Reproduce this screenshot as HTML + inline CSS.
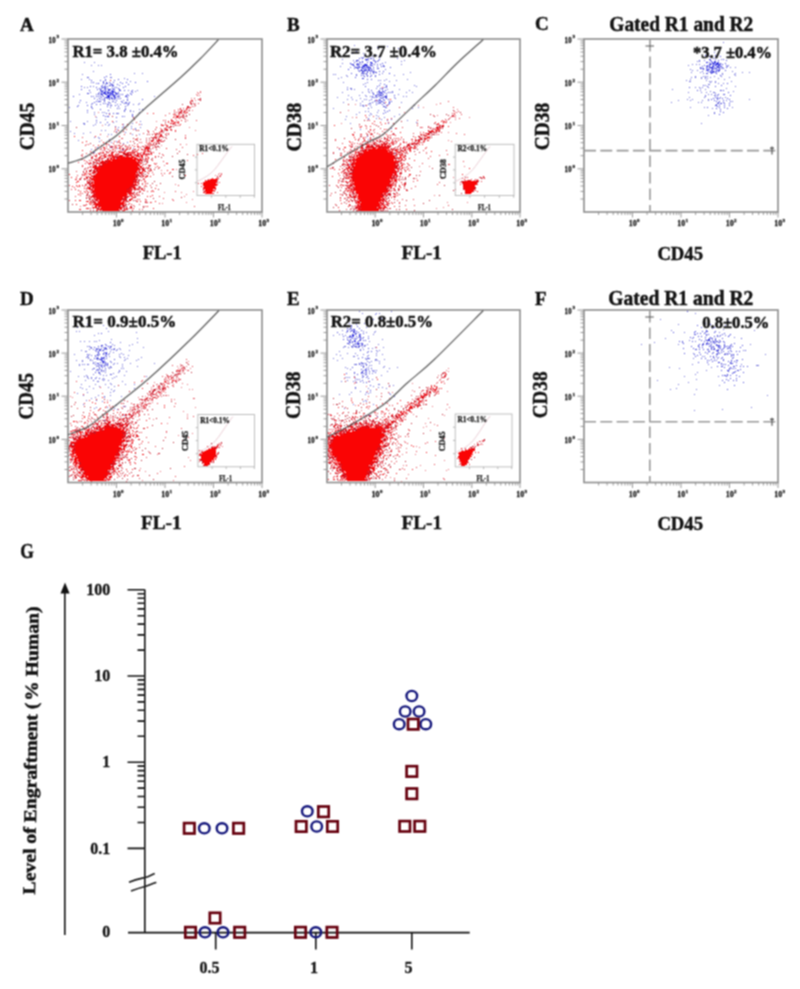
<!DOCTYPE html>
<html><head><meta charset="utf-8"><style>html,body{margin:0;padding:0;background:#fff;width:800px;height:989px;overflow:hidden}</style></head>
<body><svg width="800" height="989" viewBox="0 0 800 989" style="display:block"><rect width="800" height="989" fill="#fff"/><filter id="gb" x="0" y="0" width="800" height="989" filterUnits="userSpaceOnUse" color-interpolation-filters="sRGB"><feConvolveMatrix order="3" kernelMatrix="1 2 1 2 4 2 1 2 1" divisor="16" edgeMode="none"/></filter><g filter="url(#gb)"><g transform="translate(0,0.5)" stroke-width="1" fill="none"><path stroke="#6c6cd8" d="M723 42h1M354 45h1M387 46h1M377 47h1M398 48h1M89 51h1M356 51h1M735 51h1M714 52h1M352 53h1M363 53h1M401 55h1M372 56h1M709 56h1M361 57h1M715 57h1M397 58h1M342 59h1M710 59h1M715 59h1M721 59h1M353 60h1M368 60h1M404 60h1M704 60h1M401 61h1M697 61h1M699 61h1M84 62h1M94 62h1M385 62h1M709 62h1M342 63h1M356 64h1M361 64h1M401 64h1M692 64h1M696 64h1M699 64h1M711 64h1M719 64h1M91 65h1M98 65h1M101 65h1M688 65h1M728 65h1M340 66h1M384 66h1M350 67h1M362 67h1M730 67h1M735 67h1M354 68h1M701 68h2M385 69h1M690 69h1M714 69h1M692 70h1M697 70h1M93 71h1M374 71h1M712 71h1M732 71h1M410 72h1M691 72h1M700 72h1M742 72h1M749 72h1M134 73h1M142 73h1M361 73h1M382 73h1M703 73h1M722 73h1M735 73h1M82 74h1M333 74h1M335 74h1M356 74h1M403 74h1M722 74h1M734 74h1M346 75h1M375 75h1M394 75h1M735 75h1M347 76h1M367 76h1M695 76h1M703 76h1M705 76h1M707 76h1M714 76h1M721 76h1M88 77h1M110 77h2M341 77h1M691 77h1M701 77h1M705 77h1M710 77h1M729 77h1M124 78h1M338 78h1M701 78h1M705 78h1M707 78h1M718 78h1M81 79h1M89 79h1M105 79h1M386 79h1M407 79h1M690 79h1M724 79h1M378 80h1M380 80h1M384 80h1M396 80h1M686 80h1M706 80h1M130 81h1M389 81h1M689 81h2M709 81h1M711 81h1M715 81h1M731 81h1M91 82h1M109 82h1M343 82h1M367 82h1M710 82h1M715 82h1M96 83h1M365 83h1M380 83h1M718 83h1M723 83h1M363 84h1M708 84h2M112 85h1M119 85h1M414 85h1M705 85h1M93 86h1M416 86h1M735 86h1M84 87h1M87 87h1M347 87h1M695 87h1M699 87h1M702 87h1M708 87h1M350 88h2M376 88h1M700 88h1M726 88h1M351 89h1M354 89h1M387 89h1M399 89h1M672 89h1M705 89h1M128 90h1M137 90h1M409 90h1M700 90h1M721 90h1M135 91h1M368 91h1M378 91h2M392 91h1M710 91h1M733 91h1M90 92h1M342 92h1M362 92h1M369 92h1M406 92h1M412 92h1M688 92h1M701 92h1M706 92h1M713 92h2M715 93h1M79 94h1M96 94h1M120 94h1M127 94h1M383 94h1M398 94h1M708 94h1M711 94h1M723 94h1M348 95h1M359 95h1M365 95h1M705 95h1M714 95h1M93 96h1M154 96h1M366 96h1M370 96h1M403 96h1M406 96h1M705 96h1M337 97h1M351 97h1M394 97h1M689 97h1M704 97h1M720 97h1M725 97h1M116 98h1M360 98h1M395 98h1M97 99h1M100 99h1M112 99h1M347 99h1M352 99h1M364 99h1M366 99h1M687 99h1M692 99h1M708 99h1M749 99h1M104 100h1M123 100h1M127 100h1M356 100h1M369 100h1M678 100h1M690 100h1M702 100h1M708 100h1M726 100h1M99 101h1M112 101h2M362 101h1M374 101h1M382 101h1M732 101h1M79 102h1M86 102h1M109 102h1M125 102h2M343 102h1M401 102h1M671 102h1M698 102h1M701 102h1M105 103h1M110 103h1M139 103h1M360 103h1M369 103h1M380 103h1M717 103h1M91 104h1M100 104h1M117 104h1M120 104h1M133 104h1M138 104h1M368 104h1M716 104h1M78 105h1M110 105h1M127 105h1M360 105h1M362 105h2M365 105h1M370 105h1M414 105h1M363 106h1M69 107h1M91 107h1M110 107h1M371 107h1M386 107h1M418 107h1M690 107h1M704 107h1M732 107h1M119 108h1M125 108h1M333 108h1M412 108h1M712 108h1M139 109h1M142 109h1M130 110h1M378 110h1M124 111h1M130 111h1M133 111h1M365 111h1M368 111h1M87 112h1M94 112h1M102 112h1M104 112h1M139 112h1M359 112h1M377 112h1M714 112h1M116 113h3M370 113h1M94 114h1M356 114h1M371 114h1M399 114h1M404 114h1M132 115h1M369 115h1M376 115h1M708 115h1M124 116h1M346 116h1M378 116h1M394 116h1M96 117h1M384 117h1M368 118h1M376 118h1M105 119h1M345 119h1M368 119h1M381 119h1M391 119h1M387 120h1M407 120h1M70 121h1M87 121h1M116 121h1M140 121h1M96 122h1M113 122h1M416 122h1M83 123h2M132 123h1M350 123h1M388 123h1M701 123h1M84 124h1M95 124h1M105 124h1M109 124h1M123 124h1M141 124h1M93 125h1M108 125h1M115 126h1M123 126h1M131 126h1M118 127h1M122 127h1M140 127h1M131 128h1M135 128h1M391 128h1M117 129h1M135 129h1M360 129h1M101 130h1M105 130h1M70 131h1M116 131h1M90 132h1M125 132h1M74 133h1M83 133h1M108 134h1M111 134h1M132 134h1M139 134h1M116 135h1M367 136h1M94 137h1M98 137h1M99 138h1M109 139h1M368 139h1M78 140h1M99 141h1M116 141h1M111 142h1M127 142h1M123 143h1M109 145h1M97 147h1M111 147h1M117 148h1M133 148h1M91 149h1M123 149h1M339 149h1M122 150h1M93 152h2M395 153h1M85 156h1M116 158h1M349 164h1M359 311h1M391 311h1M362 313h1M376 313h1M379 313h1M695 313h1M375 314h1M113 318h1M381 318h1M373 319h1M660 319h1M728 321h1M349 323h1M364 323h1M705 323h1M87 324h1M356 324h1M367 324h1M678 324h1M103 325h1M351 325h1M725 325h1M77 327h1M366 327h1M106 328h1M712 328h1M723 329h1M342 330h1M671 330h1M754 330h1M76 331h1M79 331h1M108 331h1M363 331h1M375 331h1M136 332h1M346 332h1M366 332h1M374 332h1M684 332h1M719 332h1M98 333h1M339 334h1M342 334h1M373 334h1M94 335h1M333 335h1M345 335h1M350 335h1M725 335h1M729 335h1M368 336h1M719 336h1M734 337h1M137 338h1M665 338h1M692 338h1M715 338h1M111 339h1M382 339h1M705 339h1M99 340h1M359 340h1M689 340h1M80 341h1M84 341h1M89 341h1M94 341h1M96 341h1M369 341h1M695 341h1M714 341h1M120 342h1M137 342h1M654 342h1M682 342h1M718 342h1M112 344h1M132 344h1M349 344h1M367 344h1M378 344h1M641 344h1M678 344h1M750 344h1M114 345h1M129 345h1M353 345h1M359 345h1M362 345h1M364 345h2M87 346h1M111 346h1M344 346h2M351 346h1M364 346h1M90 347h2M103 347h1M143 347h1M343 347h1M348 347h1M352 347h1M356 347h1M362 347h1M375 347h1M383 347h1M91 348h1M101 348h1M104 348h1M109 348h1M114 348h1M119 348h1M372 348h1M89 349h1M93 349h1M99 349h1M114 349h1M117 349h1M120 349h1M360 349h1M363 349h1M81 350h1M129 350h1M376 350h1M379 350h1M743 350h1M85 351h2M110 351h1M339 351h1M368 351h1M377 351h1M113 352h1M109 353h1M121 353h1M347 353h1M355 353h1M376 353h1M693 353h1M725 353h1M74 354h1M89 354h1M119 354h1M123 354h1M336 354h1M363 354h1M382 354h1M765 354h1M88 355h1M91 355h1M95 355h1M98 355h1M128 355h1M340 355h1M357 355h1M368 355h1M376 355h1M731 355h1M109 356h1M119 356h1M353 356h2M367 356h1M702 356h1M704 356h1M731 356h1M86 357h1M88 357h1M120 357h1M124 357h1M141 357h1M718 357h1M88 358h1M98 358h1M127 358h1M333 358h1M342 358h1M365 358h1M369 358h1M693 358h1M714 358h1M717 358h1M90 359h1M125 359h1M138 359h1M375 359h2M384 359h1M76 360h1M82 360h1M90 360h1M92 360h1M124 360h1M136 360h1M337 360h1M375 360h1M377 360h1M709 360h1M716 360h1M82 361h1M102 361h1M367 361h1M371 361h1M379 361h1M731 361h1M93 362h1M95 362h1M100 362h1M102 362h1M111 362h1M361 362h1M103 363h1M114 363h1M117 363h1M130 363h1M154 363h1M362 363h1M379 363h1M79 364h1M82 364h1M84 364h1M87 364h2M99 364h1M101 364h1M113 364h1M122 364h1M354 364h2M692 364h1M708 364h1M721 364h1M741 364h1M79 365h1M363 365h1M366 365h1M369 365h1M371 365h1M756 365h3M96 366h1M98 366h1M110 366h1M122 366h1M137 366h1M384 366h1M99 367h1M108 367h1M110 367h2M345 367h1M368 367h1M383 367h1M397 367h1M669 367h1M711 367h1M93 368h2M99 368h1M109 368h1M121 368h1M123 368h1M347 368h1M389 368h1M679 368h1M735 368h1M84 369h1M92 369h1M99 369h1M101 369h1M350 369h1M103 370h1M119 370h1M374 370h1M376 370h1M706 370h1M70 371h1M101 371h1M103 371h1M119 371h1M126 371h1M387 371h1M98 372h1M105 372h1M118 372h1M697 372h1M113 373h1M354 373h1M369 373h1M372 373h1M93 374h1M100 374h1M111 374h1M695 374h1M86 375h1M103 375h1M106 375h1M124 375h1M381 375h1M78 376h1M84 376h1M87 376h1M116 376h1M146 376h1M354 376h1M684 376h1M718 376h1M87 377h1M91 377h1M96 377h1M114 377h1M345 377h1M347 377h1M349 377h1M366 377h1M88 378h1M91 378h1M103 378h1M112 378h1M355 378h1M102 379h1M104 379h1M359 379h1M372 379h1M696 379h1M85 380h1M103 380h1M108 380h1M347 380h1M355 380h1M657 380h1M97 381h2M122 381h1M341 381h1M353 381h1M363 382h1M688 382h1M110 383h1M81 384h1M95 384h1M105 384h1M111 384h1M125 384h1M134 384h1M378 384h2M678 384h1M389 385h1M393 385h1M719 385h1M89 386h1M99 386h1M114 386h1M373 386h1M80 387h1M108 387h1M378 387h1M382 387h1M82 388h1M93 388h1M134 388h1M355 388h1M368 388h1M386 388h1M676 388h1M86 389h1M111 389h1M670 389h1M696 389h1M114 390h1M113 391h1M360 391h1M87 392h1M110 392h1M351 392h1M370 392h1M77 393h1M368 393h1M389 393h1M339 394h1M349 394h1M365 394h1M390 394h1M694 394h1M83 395h1M98 395h1M110 395h1M767 395h1M104 396h1M121 396h1M394 396h1M95 397h1M104 397h1M91 398h1M86 400h1M96 400h1M110 400h1M365 400h1M102 401h1M363 401h1M366 401h1M83 404h1M353 404h1M373 404h1M116 405h1M123 406h1M125 406h1M96 407h1M107 407h1M751 407h1M94 408h1M114 408h1M344 408h1M111 409h1M117 409h1M722 409h1M694 410h1M124 415h1M365 415h1M369 415h1M377 416h1M104 420h1"/><path stroke="#4444d8" d="M364 55h1M376 55h1M705 55h1M715 55h1M720 56h1M363 57h1M379 57h1M359 58h1M368 58h1M370 58h2M373 58h1M713 58h1M365 59h2M379 59h1M709 59h1M723 59h1M356 60h3M366 60h1M373 60h2M378 60h1M699 60h1M710 60h1M718 60h1M726 60h1M356 61h1M362 61h1M375 61h1M377 61h1M714 61h2M354 62h1M359 62h2M362 62h1M367 62h1M375 62h1M715 62h1M717 62h2M357 63h1M372 63h1M382 63h1M710 63h1M712 63h2M717 63h2M720 63h1M725 63h1M351 64h3M357 64h2M364 64h1M370 64h1M374 64h1M377 64h1M380 64h1M709 64h1M718 64h1M720 64h1M357 65h1M363 65h3M367 65h1M370 65h3M383 65h1M704 65h1M709 65h1M718 65h1M726 65h1M354 66h1M358 66h2M366 66h1M368 66h1M377 66h1M381 66h1M383 66h1M702 66h1M706 66h2M709 66h1M716 66h3M721 66h1M727 66h1M355 67h3M361 67h1M364 67h1M366 67h2M369 67h2M373 67h1M390 67h1M700 67h1M707 67h1M711 67h2M714 67h1M717 67h3M722 67h1M726 67h1M357 68h2M363 68h1M365 68h1M368 68h1M377 68h2M700 68h1M703 68h1M711 68h3M719 68h1M721 68h1M723 68h1M361 69h1M368 69h2M371 69h1M373 69h1M703 69h1M709 69h1M712 69h1M717 69h1M719 69h1M358 70h1M360 70h3M364 70h3M368 70h2M371 70h1M706 70h2M712 70h1M725 70h1M359 71h1M362 71h3M367 71h1M372 71h2M379 71h1M383 71h1M702 71h1M713 71h2M718 71h1M362 72h1M367 72h1M373 72h1M375 72h2M710 72h2M713 72h1M715 72h1M351 73h1M362 73h3M366 73h1M370 73h1M373 73h1M706 73h2M711 73h1M110 74h1M366 74h1M379 74h1M356 75h1M361 75h1M363 75h1M367 75h1M371 75h1M720 75h1M106 76h1M364 76h1M370 76h1M375 76h1M87 77h1M104 77h1M355 77h1M695 77h1M363 78h1M118 79h1M127 79h1M367 79h1M371 79h1M91 80h1M100 80h1M105 80h1M114 80h1M103 81h1M147 81h1M93 82h1M103 82h1M106 82h1M113 82h1M120 82h1M126 82h1M135 82h1M103 83h1M106 83h2M110 83h1M122 83h1M727 83h1M105 84h1M111 84h2M117 84h1M128 84h1M384 84h1M102 85h1M109 85h2M113 85h1M379 85h1M386 85h1M394 85h1M703 85h1M721 85h1M81 86h1M90 86h1M104 86h2M107 86h1M112 86h1M125 86h1M365 86h1M377 86h1M386 86h1M707 86h1M715 86h1M96 87h1M102 87h2M105 87h1M114 87h1M116 87h1M123 87h1M384 87h1M386 87h1M689 87h1M99 88h1M101 88h1M104 88h2M107 88h1M112 88h1M118 88h1M380 88h1M382 88h1M81 89h1M97 89h1M100 89h1M105 89h1M108 89h3M114 89h1M119 89h1M347 89h1M368 89h1M382 89h1M89 90h1M100 90h2M105 90h1M109 90h1M119 90h2M124 90h1M132 90h1M371 90h1M379 90h1M697 90h1M720 90h1M723 90h1M101 91h1M107 91h1M113 91h2M131 91h1M382 91h1M99 92h1M101 92h1M104 92h1M108 92h3M113 92h1M118 92h1M132 92h1M372 92h1M377 92h1M380 92h2M388 92h1M390 92h1M392 92h1M728 92h1M87 93h2M98 93h1M103 93h2M107 93h1M110 93h1M112 93h1M115 93h1M117 93h1M130 93h1M373 93h1M379 93h1M382 93h1M386 93h1M98 94h1M100 94h3M105 94h1M109 94h1M116 94h1M122 94h1M131 94h1M373 94h1M377 94h2M380 94h1M718 94h1M724 94h1M102 95h1M109 95h1M113 95h3M126 95h1M128 95h1M375 95h2M379 95h4M386 95h1M394 95h1M715 95h1M717 95h1M730 95h1M73 96h1M91 96h1M96 96h1M98 96h1M100 96h1M103 96h1M107 96h1M113 96h2M118 96h2M125 96h2M372 96h1M376 96h1M378 96h1M384 96h3M101 97h1M105 97h5M127 97h1M372 97h1M374 97h1M376 97h1M382 97h2M385 97h2M715 97h1M717 97h1M94 98h1M99 98h1M104 98h1M107 98h1M109 98h1M111 98h2M114 98h1M118 98h1M120 98h1M381 98h1M386 98h1M713 98h1M717 98h1M719 98h1M722 98h1M727 98h1M102 99h1M104 99h1M109 99h1M114 99h1M127 99h1M142 99h1M371 99h1M388 99h1M711 99h1M717 99h1M729 99h1M80 100h1M116 100h1M377 100h1M379 100h2M384 100h1M714 100h1M723 100h1M96 101h1M100 101h1M104 101h1M121 101h1M378 101h1M389 101h1M391 101h1M716 101h1M719 101h1M730 101h1M94 102h1M108 102h1M115 102h1M122 102h1M129 102h1M372 102h1M376 102h1M379 102h2M383 102h1M389 102h1M718 102h1M723 102h1M92 103h1M103 103h1M124 103h1M126 103h1M128 103h1M370 103h1M718 103h1M720 103h2M724 103h1M729 103h1M96 104h1M107 104h2M128 104h1M376 104h1M382 104h1M388 104h1M87 105h1M111 105h1M115 105h1M386 105h1M715 105h2M719 105h1M724 105h1M729 105h1M77 106h1M91 106h1M107 106h1M118 106h1M125 106h1M383 106h2M717 106h1M385 107h1M707 107h1M719 107h1M724 107h1M92 108h1M117 108h1M368 108h1M716 108h1M727 108h1M100 109h1M125 109h1M720 109h1M87 110h1M108 110h1M124 110h1M384 110h1M389 110h1M387 111h1M720 111h1M385 112h1M723 112h1M106 113h1M109 113h1M113 113h1M383 113h1M714 113h1M132 114h1M719 114h1M103 115h1M105 116h1M107 116h2M122 116h1M132 116h1M116 117h1M96 120h1M100 122h1M107 122h1M687 311h1M710 324h1M697 325h1M348 326h1M351 326h1M357 326h1M701 327h1M712 327h1M714 327h1M347 328h1M350 328h2M359 328h1M349 329h1M353 329h2M347 330h1M352 330h1M354 330h1M361 330h1M706 330h1M350 331h1M353 331h2M695 331h1M702 331h1M706 331h2M715 331h1M337 332h1M353 332h2M358 332h1M673 332h1M705 332h1M714 332h1M101 333h1M355 333h2M363 333h1M697 333h1M700 333h1M704 333h1M724 333h1M352 334h2M355 334h1M359 334h2M694 334h2M706 334h1M708 334h1M722 334h1M730 334h1M352 335h1M706 335h1M717 335h1M720 335h1M343 336h1M349 336h1M353 336h1M356 336h1M359 336h2M698 336h1M701 336h1M714 336h1M717 336h1M347 337h1M349 337h1M358 337h1M360 337h1M363 337h1M690 337h1M693 337h1M705 337h1M710 337h1M352 338h1M354 338h1M360 338h1M362 338h1M368 338h1M709 338h1M711 338h2M722 338h1M741 338h1M343 339h1M347 339h1M350 339h1M355 339h1M699 339h1M708 339h2M715 339h1M348 340h1M350 340h1M360 340h1M363 340h1M365 340h1M701 340h1M706 340h2M709 340h1M712 340h1M715 340h1M719 340h1M349 341h1M352 341h1M679 341h1M682 341h1M692 341h1M704 341h1M710 341h1M713 341h1M716 341h2M720 341h1M723 341h1M110 342h1M349 342h2M352 342h1M357 342h1M707 342h1M711 342h1M715 342h1M719 342h1M724 342h1M347 343h2M355 343h1M358 343h2M362 343h1M683 343h1M703 343h1M706 343h2M709 343h1M714 343h1M734 343h1M105 344h1M353 344h1M355 344h1M357 344h2M362 344h1M699 344h1M702 344h2M708 344h1M711 344h1M716 344h1M724 344h1M731 344h1M101 345h2M106 345h1M361 345h1M698 345h1M702 345h1M710 345h1M716 345h3M724 345h1M730 345h1M742 345h1M89 346h1M98 346h1M101 346h1M110 346h1M352 346h1M354 346h3M358 346h2M691 346h1M698 346h1M709 346h1M711 346h1M713 346h1M718 346h1M720 346h1M724 346h1M728 346h1M730 346h1M732 346h1M94 347h1M105 347h1M110 347h1M358 347h1M699 347h1M702 347h1M711 347h1M713 347h1M718 347h2M724 347h1M729 347h1M740 347h1M96 348h1M98 348h1M105 348h2M368 348h1M683 348h1M693 348h1M711 348h1M714 348h1M723 348h1M727 348h2M96 349h2M100 349h1M104 349h1M106 349h1M111 349h1M113 349h1M695 349h2M699 349h1M703 349h1M707 349h2M711 349h1M713 349h2M718 349h1M722 349h1M95 350h1M99 350h2M102 350h2M116 350h1M360 350h1M717 350h2M721 350h1M730 350h1M745 350h1M96 351h1M98 351h1M371 351h1M708 351h2M717 351h1M723 351h1M728 351h1M731 351h1M736 351h1M739 351h1M98 352h1M104 352h1M367 352h1M699 352h1M705 352h1M713 352h1M718 352h1M721 352h1M98 353h1M103 353h1M105 353h1M684 353h1M707 353h1M712 353h1M717 353h1M719 353h1M727 353h1M729 353h1M87 354h1M97 354h1M99 354h1M103 354h1M106 354h1M108 354h1M694 354h1M700 354h1M716 354h2M724 354h2M727 354h1M731 354h1M733 354h1M737 354h1M97 355h1M105 355h1M697 355h1M733 355h1M87 356h1M95 356h1M695 356h1M710 356h1M713 356h1M716 356h1M97 357h1M103 357h2M362 357h1M713 357h1M722 357h1M733 357h1M94 358h1M96 358h2M101 358h1M103 358h1M106 358h1M358 358h1M367 358h2M701 358h1M705 358h1M721 358h1M732 358h1M97 359h1M99 359h3M104 359h1M114 359h1M366 359h1M711 359h1M723 359h1M742 359h1M101 360h1M707 360h1M714 360h1M723 360h1M731 360h1M736 360h2M104 361h1M110 361h1M712 361h1M728 361h1M734 361h1M105 362h1M369 362h1M698 362h1M707 362h1M719 362h1M730 362h1M736 362h1M93 363h1M98 363h1M105 363h1M359 363h1M361 363h1M363 363h1M365 363h1M721 363h1M730 363h3M95 364h1M105 364h1M107 364h1M356 364h1M359 364h1M366 364h1M723 364h1M725 364h1M97 365h1M99 365h1M103 365h1M105 365h1M361 365h1M728 365h1M736 365h1M104 366h1M363 366h1M717 366h1M721 366h2M733 366h2M740 366h1M743 366h1M747 366h1M102 367h1M352 367h1M363 367h1M724 367h1M730 367h1M105 368h1M366 368h1M371 368h1M729 368h1M731 368h1M733 368h1M361 369h1M365 369h1M368 369h1M729 369h1M740 369h1M96 370h1M98 370h1M101 370h1M105 370h1M363 370h1M365 370h1M372 370h1M721 370h1M727 370h2M737 370h2M362 371h1M369 371h1M373 371h1M728 371h1M735 371h1M95 372h1M99 372h1M354 372h1M361 372h2M365 372h2M375 372h1M733 372h2M743 372h1M99 373h1M346 373h1M361 373h1M363 373h1M732 373h1M110 374h1M357 374h1M365 374h2M727 374h1M362 375h1M722 375h1M724 375h2M727 375h1M730 375h1M736 375h1M363 376h1M367 376h1M726 376h1M739 376h1M362 377h1M95 378h1M99 378h1M368 378h1M730 378h1M736 378h1M357 379h1M726 379h1M93 380h1M362 380h1M722 380h1M728 380h1M733 380h1M736 380h1M360 381h1M369 381h1M356 382h1M366 382h1M724 382h1M743 382h1M370 385h1M734 385h1M355 387h1M727 389h1M370 390h1M366 392h1"/><path stroke="#2222e4" d="M362 58h1M367 59h1M711 61h1M370 62h2M706 62h2M712 62h1M714 62h1M350 63h1M371 63h1M714 63h1M716 63h1M359 64h1M365 64h2M710 64h1M713 64h1M715 64h3M722 64h1M353 65h1M366 65h1M707 65h1M713 65h1M715 65h1M719 65h1M362 66h3M712 66h2M720 66h1M359 67h1M368 67h1M709 67h2M362 68h1M370 68h1M706 68h1M715 68h2M348 69h1M364 69h1M366 69h1M707 69h2M711 70h1M716 70h1M718 70h2M370 71h1M708 71h1M710 71h1M716 71h1M712 72h1M389 73h1M716 73h1M362 78h1M98 83h1M101 86h1M113 89h1M103 90h1M108 90h1M112 90h1M385 90h1M102 91h1M105 91h1M111 91h2M383 91h1M103 92h1M105 92h1M107 92h1M112 92h1M115 92h1M379 92h1M384 92h1M101 93h1M105 93h1M108 93h1M111 93h1M116 93h1M381 93h1M106 94h1M110 94h1M112 94h2M118 94h1M107 95h2M111 95h1M108 96h2M117 96h1M111 97h1M114 97h2M380 97h1M379 99h1M383 99h1M375 100h1M98 101h1M381 101h1M378 103h1M384 103h1M389 103h1M351 330h1M347 331h1M356 331h1M694 332h1M353 335h1M359 335h1M350 336h1M352 336h1M728 336h1M351 337h1M356 338h1M360 339h1M354 340h1M708 340h1M354 341h2M358 341h1M713 342h1M357 343h1M361 343h1M706 344h1M719 345h1M108 346h1M726 346h1M720 348h1M730 348h1M716 350h1M106 352h1M106 353h1M106 356h1M101 357h1M102 358h1M102 360h1M103 361h1M103 362h1M718 362h1M97 363h1M107 363h1M101 365h1M107 365h1M101 366h1M97 369h1M366 370h1"/><path stroke="#e8707a" d="M200 91h1M197 92h1M196 94h1M199 95h1M191 98h1M199 99h1M195 100h1M195 103h1M355 104h1M436 104h1M418 105h1M194 106h1M189 107h1M423 107h1M189 108h1M457 109h1M188 110h1M192 110h1M348 110h1M185 111h1M98 112h1M404 112h1M454 114h1M437 115h1M455 115h1M95 116h1M451 116h1M453 116h2M352 117h1M450 117h1M455 117h1M469 117h1M455 119h1M172 120h1M187 120h1M446 120h1M156 121h1M446 121h1M176 122h1M446 122h1M450 122h1M341 123h1M443 123h1M102 125h1M359 126h1M189 127h1M421 127h2M160 128h1M195 130h1M448 132h1M107 136h1M121 138h1M101 140h1M448 140h1M451 141h1M104 143h1M367 143h1M86 144h1M186 144h1M161 145h1M355 146h1M159 147h1M426 152h1M426 153h1M123 156h1M82 159h1M95 164h1M443 164h1M164 165h1M419 166h1M429 166h1M464 166h1M176 169h1M161 170h1M84 173h1M219 173h1M221 173h1M218 174h1M215 175h1M220 176h1M217 177h1M453 177h1M479 177h1M481 177h1M484 177h1M217 178h1M416 178h1M441 178h1M482 178h1M85 179h1M217 179h1M477 179h1M478 180h1M175 184h1M93 188h1M393 190h1M193 191h1M164 192h1M181 192h1M186 194h1M434 195h1M184 196h1M192 199h1M94 201h1M151 202h1M186 202h1M447 202h1M467 202h1M162 203h1M80 206h1M380 206h1M443 207h1M127 208h1M436 208h1M188 361h1M187 363h1M180 364h1M182 365h1M177 366h1M180 366h1M183 366h1M186 366h1M182 367h2M178 368h1M181 368h1M190 368h1M448 368h1M185 369h1M176 370h1M179 370h2M183 370h1M187 370h1M446 370h1M178 371h1M180 371h1M183 371h1M448 371h1M177 372h1M182 372h1M443 372h1M445 372h1M173 373h1M180 373h1M166 374h1M180 374h1M441 374h1M445 374h1M175 375h1M438 375h1M444 375h1M168 376h2M166 378h1M168 378h1M448 378h1M165 379h1M171 379h1M166 380h2M174 380h2M439 380h1M172 381h1M176 381h1M368 381h1M441 381h1M154 382h1M166 382h1M171 382h1M169 383h1M182 383h1M354 383h1M412 383h1M436 383h1M156 384h2M162 384h1M164 384h1M173 384h1M187 384h1M162 385h1M157 386h1M366 386h1M151 387h1M158 387h3M162 387h3M168 387h1M181 387h1M437 387h1M156 388h1M159 388h1M165 388h1M153 389h1M157 389h1M159 389h1M189 389h1M192 389h1M438 389h1M155 390h1M162 390h1M164 390h1M412 390h1M157 391h1M159 391h1M447 391h1M149 392h1M153 392h1M156 392h1M158 392h1M165 392h1M392 392h1M159 393h1M148 394h1M160 394h1M148 395h1M151 395h1M157 395h1M160 395h1M165 395h1M168 395h1M70 396h1M145 396h1M152 396h1M161 396h1M376 396h1M72 397h1M138 397h1M145 398h1M194 398h1M389 398h1M140 399h1M145 399h1M151 399h1M174 399h1M367 399h1M380 399h1M107 400h1M145 400h1M150 400h1M145 401h1M140 402h1M143 402h1M145 402h1M152 402h1M407 402h1M141 403h1M149 403h1M147 404h1M333 404h1M141 405h1M355 405h1M106 406h1M145 406h1M149 406h1M432 406h1M121 407h1M133 407h2M143 407h1M195 407h1M449 407h1M112 408h1M134 408h1M144 408h1M133 409h1M138 409h1M147 409h1M446 409h1M128 410h1M137 410h1M141 410h1M361 410h1M127 411h1M132 411h1M138 411h1M183 411h1M134 412h1M139 412h1M132 413h1M187 414h1M375 414h1M413 414h1M129 415h2M345 415h1M376 415h1M444 415h1M88 416h1M135 416h1M138 416h1M187 416h1M104 417h1M128 418h2M428 418h1M105 419h1M153 419h1M400 419h1M125 420h1M79 421h1M131 421h1M349 421h1M84 422h1M125 422h1M127 422h1M126 423h1M167 423h1M335 423h1M425 423h1M434 424h1M426 426h1M423 427h1M430 430h1M166 432h1M192 433h1M178 435h1M71 438h1M444 438h1M182 440h1M482 440h1M404 441h1M480 441h1M482 441h2M70 442h1M477 442h1M477 443h1M481 443h1M217 444h2M220 444h1M474 444h1M482 444h1M217 445h1M396 445h1M478 445h1M222 446h1M416 446h1M217 447h2M419 447h1M406 448h1M391 449h1M148 451h1M398 451h1M157 454h1M402 454h1M415 454h1M188 457h1M114 460h1M190 460h1M444 460h1M403 465h1M420 465h1M140 468h1M332 468h1M400 469h1M448 469h1M425 470h1M446 470h1M145 471h1M160 471h1M123 472h1M376 473h1M408 474h1M121 475h1M390 477h1M342 478h1M142 480h1M173 480h1M401 481h1"/><path stroke="#b8182a" d="M110 80h1M200 98h1M198 99h1M200 100h1M190 101h1M192 101h1M191 103h1M182 104h1M191 104h1M194 104h1M348 104h1M188 106h1M187 107h1M399 107h1M180 109h1M184 110h1M189 110h1M453 110h1M174 112h1M179 112h2M183 112h1M340 112h1M460 112h1M183 114h1M189 114h1M430 114h1M446 114h1M186 115h1M448 115h1M452 115h1M112 116h1M176 116h1M182 116h1M184 116h1M186 116h1M434 116h1M133 117h1M180 117h1M183 117h1M379 118h1M448 119h1M364 120h1M185 121h1M401 121h1M165 122h1M393 123h1M417 123h1M434 123h1M173 124h1M359 124h1M436 124h1M163 125h1M175 125h1M376 125h1M439 125h1M171 126h1M173 126h1M378 126h1M437 126h1M441 126h3M76 127h1M166 127h1M169 127h2M428 127h1M436 127h1M440 127h1M351 128h1M430 128h1M155 129h1M165 129h1M433 129h1M439 129h1M136 130h1M138 130h1M162 130h1M164 130h1M166 130h1M437 130h1M123 131h1M148 131h1M368 131h1M429 131h1M439 131h1M116 132h1M163 132h1M384 132h1M429 132h3M433 132h1M436 132h1M130 133h1M157 133h1M393 133h1M431 133h1M147 134h1M152 134h1M156 134h1M158 134h1M161 134h1M367 134h1M371 134h1M383 134h1M428 134h1M433 134h2M136 135h1M166 135h1M421 135h1M424 135h2M431 135h1M161 136h1M360 136h2M380 136h1M413 136h1M418 136h1M153 137h2M163 137h1M165 137h1M379 137h1M388 137h1M419 137h2M429 137h1M431 137h1M133 138h1M149 138h1M158 138h1M344 138h1M377 138h1M384 138h2M390 138h1M424 138h2M136 139h1M153 139h1M175 139h1M364 139h1M372 139h1M403 139h1M419 139h4M137 140h1M146 140h1M151 140h1M159 140h1M164 140h1M358 140h1M380 140h1M395 140h1M416 140h1M427 140h1M133 141h1M158 141h1M365 141h1M373 141h1M379 141h2M386 141h1M415 141h1M418 141h1M119 142h1M374 142h1M421 142h1M90 143h1M106 143h1M134 143h1M150 143h1M156 143h1M158 143h2M376 143h1M385 143h1M389 143h1M413 143h1M417 143h1M149 144h1M153 144h1M373 144h2M381 144h1M393 144h1M407 144h1M409 144h1M411 144h1M416 144h1M129 145h1M152 145h1M371 145h1M375 145h1M409 145h1M414 145h1M115 146h1M146 146h1M155 146h1M157 146h2M352 146h1M362 146h1M366 146h1M370 146h1M372 146h2M379 146h1M385 146h1M388 146h2M398 146h1M407 146h1M110 147h1M112 147h1M119 147h1M140 147h1M144 147h1M367 147h1M372 147h1M379 147h1M382 147h1M397 147h1M406 147h1M411 147h1M123 148h1M149 148h1M363 148h1M391 148h1M394 148h1M403 148h1M415 148h1M100 149h1M108 149h1M126 149h1M129 149h1M135 149h1M144 149h1M147 149h1M150 149h1M156 149h1M362 149h1M364 149h1M368 149h2M392 149h1M396 149h1M417 149h1M120 150h1M132 150h1M361 150h1M394 150h1M401 150h2M405 150h1M106 151h1M112 151h1M125 151h1M150 151h1M179 151h1M358 151h1M360 151h1M390 151h1M398 151h1M400 151h1M414 151h1M100 152h1M120 152h1M133 152h1M151 152h1M359 152h1M390 152h1M406 152h1M419 152h1M93 153h1M123 153h2M127 153h2M148 153h1M177 153h1M333 153h1M341 153h1M348 153h1M393 153h2M401 153h1M405 153h1M99 154h1M123 154h1M125 154h1M127 154h1M131 154h1M145 154h1M187 154h1M359 154h1M361 154h1M391 154h1M400 154h1M81 155h1M104 155h1M110 155h1M125 155h1M127 155h1M129 155h1M134 155h1M136 155h1M340 155h1M357 155h1M405 155h1M116 156h1M118 156h1M120 156h1M124 156h1M133 156h1M158 156h1M172 156h1M349 156h1M353 156h1M396 156h1M405 156h1M91 157h1M114 157h1M161 157h1M349 157h2M352 157h2M394 157h2M99 158h1M102 158h1M107 158h1M111 158h1M137 158h1M142 158h1M152 158h1M396 158h2M95 159h1M107 159h1M143 159h1M145 159h1M151 159h1M349 159h3M395 159h1M401 159h1M98 160h1M140 160h1M145 160h1M348 160h1M353 160h1M398 160h1M93 161h1M99 161h1M107 161h1M141 161h1M144 161h1M146 161h1M95 162h1M97 162h1M101 162h1M105 162h1M138 162h1M142 162h1M147 162h1M93 163h1M96 163h1M104 163h1M137 163h1M333 163h1M343 163h1M347 163h1M352 163h1M395 163h1M400 163h2M93 164h1M143 164h1M350 164h1M398 164h1M408 164h1M96 165h1M102 165h1M149 165h1M342 165h1M394 165h1M90 166h1M96 166h1M101 166h1M344 166h1M348 166h1M352 166h2M396 166h1M399 166h1M95 167h1M138 167h1M148 167h1M332 167h1M395 167h1M399 167h1M411 167h1M85 168h1M139 168h1M142 168h1M145 168h1M150 168h1M158 168h1M332 168h1M346 168h2M395 168h1M432 168h1M84 169h1M96 169h1M144 169h1M150 169h1M154 169h1M350 169h4M400 169h1M404 169h1M90 170h2M94 170h1M96 170h1M139 170h1M142 170h1M148 170h1M150 170h1M83 171h1M89 171h2M93 171h1M145 171h1M352 171h1M396 171h2M444 171h1M97 172h1M136 172h2M139 172h1M170 172h1M345 172h1M348 172h1M350 172h1M352 172h1M94 173h1M139 173h1M143 173h1M401 173h1M82 174h1M142 174h1M145 174h1M348 174h1M94 175h1M136 175h1M138 175h2M143 175h1M147 175h1M346 175h2M416 175h1M419 175h1M88 176h1M92 176h1M136 176h1M140 176h1M142 176h1M172 176h1M217 176h1M348 176h1M351 176h1M393 176h1M87 177h1M93 177h1M136 177h1M344 177h1M353 177h1M392 177h1M395 177h1M405 177h1M465 177h1M480 177h1M483 177h1M80 178h1M343 178h1M345 178h1M391 178h1M394 178h1M405 178h1M413 178h1M481 178h1M80 179h1M84 179h1M89 179h1M91 179h1M134 179h1M342 179h1M401 179h1M403 179h1M405 179h1M87 180h1M136 180h1M138 180h2M207 180h1M217 180h1M353 180h1M469 180h1M90 181h1M92 181h1M133 181h1M138 181h1M154 181h1M341 181h2M390 181h1M461 181h2M464 181h1M476 181h1M88 182h2M137 182h1M217 182h1M405 182h1M477 182h1M89 183h2M147 183h1M152 183h1M160 183h1M347 183h1M389 183h1M404 183h1M463 183h1M133 184h1M395 184h1M405 184h1M134 185h1M329 185h1M345 185h1M347 185h1M351 185h1M390 185h1M444 185h1M90 186h1M93 186h1M131 186h1M139 186h1M204 186h1M353 186h1M388 186h1M399 186h1M404 186h1M89 187h1M130 187h1M133 187h1M140 187h1M151 187h1M338 187h1M475 187h1M86 188h1M129 188h1M144 188h1M348 188h2M351 188h1M387 188h1M463 188h1M474 188h2M127 189h1M135 189h1M138 189h1M141 189h1M158 189h1M203 189h1M215 189h1M353 189h1M386 189h1M398 189h1M78 190h1M91 190h1M340 190h1M389 190h1M395 190h1M398 190h1M407 190h1M453 190h1M129 191h1M139 191h1M204 191h1M344 191h1M353 191h1M473 191h1M92 192h1M127 192h1M134 192h1M335 192h1M343 192h1M396 192h1M465 192h1M87 193h1M136 193h1M142 193h1M344 193h1M353 193h1M356 193h1M388 193h2M393 193h1M461 193h1M87 194h1M132 194h1M342 194h1M346 194h1M381 194h1M389 194h1M399 194h1M87 195h1M89 195h1M137 195h1M350 195h1M353 195h1M382 195h2M390 195h1M439 195h1M92 196h1M94 196h1M125 196h1M135 196h1M353 196h1M383 196h1M386 196h1M394 196h1M88 197h1M90 197h1M126 197h2M133 197h1M181 197h1M347 197h1M352 197h1M388 197h1M86 198h1M89 198h1M124 198h1M153 198h1M354 198h1M386 198h1M388 198h1M89 199h2M92 199h1M94 199h1M96 199h1M122 199h2M126 199h1M130 199h1M347 199h1M383 199h1M96 200h1M126 200h1M133 200h1M135 200h1M346 200h1M351 200h2M385 200h1M406 200h1M429 200h1M91 201h1M93 201h1M126 201h1M128 201h1M360 201h1M380 201h1M92 202h1M94 202h1M145 202h1M344 202h1M356 202h1M383 202h1M394 202h1M382 203h1M423 203h1M72 204h1M99 204h1M126 204h1M120 205h1M122 205h2M336 205h1M349 205h1M387 205h1M120 206h1M124 206h1M126 206h1M131 206h1M143 206h1M352 206h1M360 206h1M399 206h1M96 207h1M98 207h1M120 207h1M124 207h1M126 207h1M131 207h1M143 207h1M333 207h1M356 207h1M376 207h1M97 208h2M353 208h1M355 208h1M359 208h1M380 208h1M384 208h1M98 209h1M127 209h1M350 209h1M354 209h1M383 209h1M399 209h1M452 209h1M102 210h1M118 210h1M356 210h1M360 210h1M414 210h1M186 362h1M188 364h1M181 365h1M184 367h1M184 368h1M182 370h1M176 371h1M179 371h1M172 372h1M191 372h1M179 373h1M184 373h1M442 373h2M175 374h3M167 375h1M174 375h1M441 375h1M176 376h1M445 376h1M172 377h1M376 377h1M437 377h1M173 378h1M164 379h1M447 379h1M178 380h1M345 381h1M172 382h1M147 383h1M160 383h2M388 383h1M161 384h1M118 385h1M159 385h1M163 386h1M436 386h1M419 387h1M426 387h1M162 388h1M164 388h1M154 389h2M160 389h1M162 389h1M376 389h1M428 389h1M430 389h1M436 389h1M154 390h1M427 390h1M129 391h1M149 391h1M152 391h2M158 391h1M430 391h1M438 391h1M426 392h1M429 392h1M434 392h1M151 393h1M420 393h1M152 394h2M429 394h1M435 394h1M156 395h1M163 395h1M420 395h1M434 395h1M142 396h1M381 396h1M416 396h1M424 396h1M429 396h1M154 397h1M422 397h1M147 398h1M152 398h1M333 398h1M418 398h1M422 398h1M96 399h1M104 399h1M141 399h1M146 399h1M362 399h1M416 399h2M144 400h1M148 400h1M425 400h1M171 401h1M414 401h1M416 401h1M75 402h1M369 402h1M385 402h1M123 403h1M142 403h1M339 403h1M360 403h1M411 403h1M416 403h1M336 404h2M419 404h1M423 404h1M426 404h1M115 405h1M137 405h1M146 405h1M412 405h1M416 405h1M418 405h2M71 406h1M84 406h1M134 406h1M141 406h1M342 406h1M414 406h1M90 407h1M361 407h1M405 407h2M122 408h1M137 408h1M143 408h1M347 408h1M377 408h1M394 408h1M403 408h1M411 408h1M99 409h1M130 409h1M135 409h1M152 409h1M394 409h1M403 409h1M132 410h1M139 410h1M356 410h1M398 410h1M408 410h1M105 411h1M137 411h1M139 411h1M356 411h1M398 411h1M400 411h1M83 412h1M348 412h1M356 412h1M359 412h1M113 413h1M138 413h1M342 413h1M364 413h1M397 413h1M94 414h1M102 414h1M129 414h1M133 414h1M144 414h1M406 414h1M442 414h1M73 415h1M122 415h1M126 415h1M131 415h1M347 415h1M363 415h1M370 415h1M396 415h1M401 415h1M71 416h1M106 416h1M113 416h1M345 416h1M360 416h1M369 416h1M391 416h2M395 416h2M405 416h1M416 416h1M107 417h1M115 417h1M117 417h1M126 417h1M131 417h1M349 417h1M353 417h1M364 417h1M388 417h1M396 417h2M400 417h1M92 418h1M117 418h1M121 418h1M124 418h1M126 418h1M156 418h1M331 418h1M333 418h1M347 418h1M354 418h1M368 418h1M94 419h1M123 419h1M127 419h1M332 419h1M334 419h1M345 419h1M100 420h1M103 420h1M106 420h1M339 420h1M341 420h2M349 420h1M363 420h1M365 420h1M373 420h1M382 420h1M402 420h1M81 421h1M98 421h1M104 421h1M124 421h1M127 421h1M366 421h1M371 421h1M373 421h1M392 421h3M105 422h1M108 422h1M120 422h1M126 422h1M136 422h1M335 422h1M344 422h1M356 422h1M365 422h1M375 422h1M378 422h1M382 422h1M388 422h1M396 422h1M430 422h1M97 423h1M101 423h1M105 423h1M109 423h1M116 423h3M128 423h2M131 423h1M355 423h1M357 423h1M361 423h1M366 423h1M372 423h1M385 423h1M387 423h1M392 423h1M411 423h1M108 424h1M110 424h1M117 424h4M331 424h2M335 424h1M351 424h1M358 424h1M363 424h1M375 424h2M380 424h1M383 424h1M390 424h1M113 425h1M121 425h2M127 425h1M152 425h1M344 425h1M361 425h1M366 425h1M378 425h1M387 425h1M389 425h1M395 425h1M92 426h1M96 426h1M98 426h1M100 426h1M106 426h1M108 426h1M118 426h1M126 426h1M333 426h1M337 426h1M357 426h1M359 426h1M363 426h1M370 426h1M386 426h1M391 426h1M395 426h1M77 427h1M88 427h1M94 427h1M96 427h1M99 427h1M110 427h1M112 427h1M114 427h1M123 427h2M131 427h1M334 427h1M338 427h1M346 427h1M366 427h2M376 427h1M385 427h1M387 427h1M390 427h1M393 427h1M83 428h1M91 428h1M102 428h1M119 428h1M123 428h1M143 428h1M340 428h1M345 428h1M353 428h3M375 428h1M385 428h2M388 428h1M393 428h1M77 429h1M96 429h3M126 429h1M350 429h1M354 429h3M359 429h1M75 430h1M102 430h1M338 430h1M341 430h1M345 430h2M355 430h2M88 431h1M90 431h1M125 431h2M136 431h2M344 431h1M346 431h1M93 432h3M122 432h1M334 432h1M337 432h1M343 432h1M383 432h2M83 433h1M91 433h1M94 433h1M123 433h2M126 433h2M335 433h1M338 433h1M345 433h1M380 433h1M390 433h1M408 433h1M423 433h1M81 434h1M87 434h1M335 434h2M385 434h1M393 434h1M407 434h1M78 435h1M83 435h1M85 435h2M125 435h1M77 436h1M84 436h1M122 436h1M125 436h1M127 436h3M136 436h1M329 436h1M334 436h1M385 436h1M69 437h1M73 437h1M75 437h1M77 437h2M123 437h1M126 437h2M130 437h1M329 437h1M386 437h1M398 437h1M73 438h3M79 438h1M333 438h1M392 438h1M73 439h1M78 439h1M123 439h1M132 439h1M139 439h1M331 439h1M383 439h2M387 439h1M395 439h2M484 439h1M126 440h1M163 440h1M332 440h1M384 440h1M484 440h1M127 441h2M330 441h1M382 441h1M384 441h1M122 442h1M173 442h1M221 442h1M329 442h1M393 442h1M71 443h1M73 443h1M121 443h1M211 443h1M70 444h1M329 444h1M379 444h1M388 444h1M392 444h1M400 444h1M478 444h1M71 445h4M123 445h1M125 445h1M218 445h1M384 445h3M477 445h1M121 446h1M128 446h1M386 446h1M472 446h1M475 446h1M69 447h1M73 447h1M211 447h1M215 447h1M378 447h1M380 447h1M384 447h1M398 447h1M471 447h1M145 448h1M162 448h1M214 448h1M328 448h1M330 448h1M378 448h1M380 448h2M471 448h1M69 449h1M74 449h1M118 449h1M123 449h1M135 449h1M377 449h1M379 449h1M386 449h1M471 449h1M74 450h1M121 450h1M133 450h1M142 450h1M118 451h1M390 451h1M121 452h1M149 452h1M201 452h1M218 452h1M117 453h1M135 453h1M159 453h1M375 453h1M379 453h1M382 453h2M71 454h1M116 454h1M122 454h1M376 454h1M120 455h1M122 455h1M200 455h1M214 455h1M328 455h1M376 455h1M390 455h1M116 456h1M125 456h1M328 456h1M336 456h1M377 456h1M383 456h1M393 456h1M399 456h1M458 456h1M76 457h1M120 457h1M123 457h2M330 457h2M333 457h2M375 457h1M474 457h1M72 458h1M121 458h1M131 458h1M329 458h2M375 458h1M386 458h1M395 458h1M71 459h2M200 459h1M377 459h1M459 459h1M471 459h1M141 460h1M200 460h2M332 460h1M383 460h1M113 461h1M119 461h1M202 461h1M211 461h1M377 461h1M382 461h1M405 461h1M466 461h1M70 462h1M76 462h1M79 462h1M125 462h1M202 462h1M213 462h1M329 462h1M371 462h1M375 462h1M377 462h1M79 463h2M113 463h1M115 463h1M122 463h1M329 463h2M334 463h1M339 463h1M372 463h1M380 463h1M385 463h1M110 464h3M209 464h1M341 464h1M389 464h1M120 465h1M204 465h1M371 465h1M377 465h1M388 465h1M112 466h1M119 466h1M368 466h1M390 466h1M82 467h1M113 467h1M121 467h1M333 467h1M337 467h1M369 467h2M381 467h1M73 468h1M118 468h1M134 468h2M170 468h1M330 468h1M383 468h1M76 469h1M81 469h2M111 469h2M339 469h3M386 469h1M399 469h1M83 470h1M121 470h1M332 470h1M339 470h1M343 470h1M370 470h1M385 470h1M107 471h3M115 471h1M328 471h1M337 471h1M341 471h1M367 471h1M370 471h1M380 471h1M80 472h1M82 472h1M85 472h1M112 472h1M131 472h1M369 472h3M387 472h2M77 473h1M111 473h1M122 473h1M336 473h2M367 473h1M369 473h1M371 473h1M72 474h1M343 474h1M345 474h1M369 474h1M376 474h1M380 474h1M71 475h1M75 475h1M78 475h1M104 475h1M137 475h1M149 475h1M342 475h1M344 475h1M366 475h1M368 475h1M75 476h1M344 476h1M373 476h1M73 477h1M75 477h1M82 477h1M341 477h1M368 477h1M379 477h1M87 478h1M122 478h1M371 478h1M373 478h1M376 478h1M379 478h1M73 479h1M85 479h1M105 479h1M114 479h1M127 479h1M153 479h1M337 479h1M365 479h1M367 479h1M81 480h1M86 480h1M394 480h1"/><path stroke="#e23444" d="M382 87h1M200 92h1M198 93h1M197 95h1M194 98h1M200 99h1M192 100h1M376 100h1M448 101h1M385 102h1M190 103h1M193 103h1M198 103h1M440 103h1M195 105h1M366 105h1M387 105h1M192 106h1M188 107h1M453 107h1M183 108h1M186 108h2M178 109h1M182 110h1M186 110h1M178 111h1M180 111h2M454 111h1M458 111h1M176 112h1M181 112h1M184 112h1M187 112h1M456 112h1M147 113h1M169 113h1M178 113h2M452 113h1M109 114h1M173 114h1M175 114h1M179 114h1M461 114h1M165 115h1M176 115h1M182 115h2M433 115h1M453 115h1M136 116h1M178 116h1M373 116h1M452 116h1M176 117h3M182 117h1M356 117h1M366 117h1M175 118h1M179 118h1M184 118h1M391 118h1M449 118h1M459 118h1M134 119h1M171 119h1M185 119h1M445 119h1M163 120h1M165 120h1M176 120h1M196 120h1M367 120h1M369 120h1M417 120h1M442 120h1M171 121h2M178 121h1M443 121h1M136 122h1M168 122h1M175 122h1M177 122h1M388 122h1M171 123h2M174 123h1M178 123h1M122 124h1M139 124h1M161 124h1M175 124h1M374 124h1M381 124h1M438 124h1M161 125h1M167 125h1M177 125h1M179 125h1M365 125h1M417 125h1M366 126h1M428 126h1M115 127h1M168 127h1M402 127h1M420 127h1M430 127h1M438 127h1M442 127h1M164 128h2M366 128h1M380 128h1M396 128h1M432 128h1M434 128h1M437 128h2M442 128h1M123 129h1M126 129h1M133 129h1M171 129h1M374 129h1M386 129h1M435 129h1M147 130h1M161 130h1M167 130h1M171 130h1M370 130h1M373 130h1M431 130h1M114 131h1M153 131h1M160 131h3M175 131h1M382 131h1M428 131h1M148 132h1M161 132h1M354 132h1M374 132h1M420 132h1M435 132h1M441 132h1M143 133h1M156 133h1M166 133h1M168 133h1M366 133h1M377 133h1M413 133h1M426 133h2M429 133h1M456 133h1M100 134h1M124 134h1M149 134h1M165 134h1M168 134h1M353 134h1M360 134h1M370 134h1M372 134h1M379 134h1M382 134h1M392 134h3M420 134h1M432 134h1M436 134h1M438 134h1M464 134h1M155 135h1M161 135h1M185 135h1M367 135h1M388 135h1M395 135h1M423 135h1M157 136h1M160 136h1M82 137h1M155 137h2M159 137h1M185 137h1M363 137h1M365 137h1M370 137h1M384 137h1M424 137h1M112 138h1M122 138h1M146 138h1M152 138h2M155 138h1M166 138h1M185 138h1M359 138h1M370 138h1M381 138h1M394 138h1M420 138h1M140 139h1M158 139h2M161 139h1M335 139h1M358 139h1M375 139h1M384 139h1M387 139h1M392 139h1M400 139h1M411 139h1M418 139h1M425 139h1M119 140h1M149 140h1M152 140h1M156 140h2M160 140h1M335 140h1M371 140h1M373 140h1M376 140h2M387 140h1M389 140h1M392 140h1M417 140h2M424 140h1M109 141h1M114 141h1M118 141h1M157 141h1M160 141h4M381 141h1M392 141h1M394 141h1M424 141h1M117 142h1M139 142h1M141 142h1M156 142h1M158 142h1M352 142h1M362 142h1M370 142h1M372 142h1M379 142h1M384 142h1M392 142h2M396 142h1M403 142h2M414 142h1M423 142h1M120 143h1M153 143h1M342 143h1M354 143h1M357 143h1M360 143h1M368 143h1M373 143h1M383 143h2M395 143h1M400 143h1M409 143h1M415 143h2M88 144h1M123 144h1M147 144h1M155 144h2M180 144h1M352 144h1M359 144h1M361 144h1M363 144h1M367 144h1M384 144h1M386 144h1M412 144h2M415 144h1M85 145h1M93 145h1M114 145h1M116 145h1M118 145h1M122 145h1M125 145h1M132 145h1M148 145h1M154 145h1M349 145h1M363 145h1M369 145h1M376 145h3M384 145h1M417 145h1M106 146h1M110 146h3M120 146h2M125 146h1M127 146h1M138 146h1M142 146h2M149 146h1M350 146h2M357 146h1M360 146h2M369 146h1M383 146h1M386 146h2M404 146h1M406 146h1M409 146h2M95 147h1M104 147h1M114 147h1M126 147h1M138 147h1M145 147h1M147 147h1M149 147h1M153 147h1M155 147h2M182 147h1M337 147h1M351 147h1M365 147h1M370 147h1M375 147h2M387 147h1M403 147h1M412 147h1M416 147h1M426 147h1M101 148h1M106 148h1M127 148h1M148 148h1M152 148h1M360 148h1M362 148h1M381 148h1M385 148h1M393 148h1M402 148h1M414 148h1M95 149h1M104 149h1M112 149h1M122 149h1M125 149h1M176 149h1M350 149h1M367 149h1M391 149h1M395 149h1M400 149h1M404 149h2M409 149h2M102 150h1M104 150h1M115 150h1M143 150h1M145 150h1M147 150h2M351 150h1M364 150h1M400 150h1M409 150h1M423 150h1M446 150h1M90 151h1M109 151h1M114 151h1M118 151h2M121 151h1M132 151h1M134 151h2M344 151h1M349 151h1M362 151h1M392 151h1M91 152h1M106 152h3M111 152h2M121 152h1M124 152h1M127 152h1M131 152h1M137 152h1M141 152h1M144 152h1M333 152h1M347 152h1M350 152h1M355 152h1M357 152h1M363 152h1M389 152h1M391 152h1M394 152h1M86 153h1M98 153h1M101 153h1M103 153h1M118 153h1M138 153h3M143 153h1M146 153h1M150 153h1M202 153h1M340 153h1M350 153h1M358 153h1M362 153h1M398 153h1M82 154h1M89 154h1M96 154h1M104 154h1M106 154h1M111 154h2M117 154h2M129 154h1M137 154h1M142 154h3M146 154h1M148 154h2M162 154h1M354 154h1M397 154h1M415 154h1M447 154h1M90 155h1M94 155h1M96 155h1M103 155h1M135 155h1M140 155h2M163 155h1M193 155h1M351 155h1M360 155h1M394 155h1M396 155h1M439 155h1M82 156h1M92 156h1M102 156h1M108 156h1M113 156h1M115 156h1M117 156h1M127 156h2M136 156h1M139 156h1M147 156h1M343 156h2M351 156h1M354 156h1M403 156h1M430 156h1M92 157h1M105 157h1M109 157h1M115 157h1M131 157h1M139 157h1M141 157h2M155 157h1M91 158h2M96 158h1M101 158h1M103 158h1M119 158h1M145 158h1M405 158h1M428 158h1M81 159h1M94 159h1M97 159h1M99 159h1M101 159h1M136 159h2M141 159h1M346 159h2M352 159h1M354 159h1M399 159h1M91 160h1M95 160h1M97 160h1M99 160h1M107 160h1M139 160h1M147 160h1M187 160h1M343 160h1M345 160h1M354 160h1M400 160h1M403 160h2M86 161h1M96 161h1M104 161h1M147 161h1M163 161h1M343 161h2M346 161h1M348 161h1M351 161h1M396 161h1M400 161h1M463 161h1M78 162h1M87 162h1M90 162h1M94 162h1M106 162h1M139 162h2M350 162h1M352 162h1M354 162h1M397 162h1M85 163h1M88 163h4M99 163h1M146 163h1M156 163h1M166 163h1M354 163h1M396 163h1M403 163h1M422 163h1M89 164h1M155 164h1M343 164h2M351 164h1M397 164h1M404 164h1M448 164h2M82 165h1M92 165h1M100 165h1M142 165h1M148 165h1M346 165h3M353 165h1M398 165h1M94 166h1M149 166h1M340 166h1M407 166h1M90 167h1M99 167h1M146 167h1M155 167h1M333 167h1M397 167h1M404 167h1M406 167h1M87 168h1M94 168h1M141 168h1M350 168h1M394 168h1M397 168h3M401 168h1M408 168h1M91 169h1M95 169h1M140 169h1M142 169h1M173 169h1M344 169h1M86 170h1M98 170h1M144 170h1M343 170h2M398 170h1M405 170h1M409 170h1M76 171h1M96 171h1M138 171h1M342 171h2M348 171h2M394 171h1M420 171h1M83 172h1M86 172h1M93 172h1M152 172h1M346 172h1M351 172h1M396 172h1M401 172h1M92 173h2M141 173h1M161 173h1M164 173h1M343 173h2M346 173h2M351 173h1M393 173h1M399 173h2M95 174h1M137 174h1M141 174h1M153 174h1M221 174h1M345 174h1M392 174h1M394 174h1M396 174h1M77 175h1M82 175h1M135 175h1M162 175h1M220 175h1M339 175h1M343 175h1M396 175h1M409 175h1M86 176h1M139 176h1M145 176h1M219 176h1M344 176h1M346 176h1M394 176h1M396 176h1M400 176h1M408 176h1M81 177h1M141 177h1M350 177h2M394 177h1M396 177h1M402 177h1M467 177h1M87 178h1M94 178h1M137 178h1M143 178h1M340 178h1M346 178h1M349 178h1M392 178h2M396 178h1M414 178h1M462 178h1M484 178h1M76 179h1M137 179h1M139 179h1M143 179h1M208 179h1M471 179h1M475 179h1M135 180h1M338 180h2M395 180h1M465 180h1M467 180h1M474 180h1M476 180h1M89 181h1M134 181h1M136 181h1M144 181h1M345 181h2M391 181h1M395 181h1M413 181h1M478 181h1M481 181h1M93 182h1M203 182h1M216 182h1M219 182h1M347 182h2M352 182h1M396 182h1M439 182h1M460 182h1M87 183h2M133 183h1M142 183h1M198 183h1M391 183h2M462 183h1M85 184h2M89 184h1M138 184h1M142 184h1M341 184h1M352 184h2M393 184h1M437 184h1M460 184h1M477 184h1M69 185h1M76 185h1M85 185h1M89 185h2M135 185h3M145 185h1M150 185h1M156 185h1M178 185h1M336 185h1M342 185h1M346 185h1M348 185h1M350 185h1M393 185h1M84 186h1M91 186h1M133 186h1M146 186h1M337 186h1M347 186h1M350 186h1M387 186h1M391 186h1M415 186h1M74 187h1M90 187h1M94 187h1M131 187h1M138 187h2M203 187h1M341 187h1M348 187h2M352 187h1M354 187h1M391 187h1M463 187h1M135 188h1M137 188h1M139 188h1M141 188h2M345 188h1M353 188h1M390 188h2M394 188h1M404 188h1M411 188h1M71 189h1M89 189h1M91 189h1M130 189h2M136 189h1M139 189h1M346 189h1M354 189h1M389 189h1M394 189h1M399 189h1M406 189h1M455 189h1M463 189h2M92 190h1M134 190h1M144 190h1M152 190h1M203 190h1M347 190h1M394 190h1M473 190h1M84 191h1M87 191h1M90 191h1M130 191h2M147 191h1M175 191h1M214 191h1M351 191h1M388 191h1M94 192h1M131 192h1M133 192h1M139 192h1M217 192h1M349 192h1M352 192h2M385 192h3M82 193h1M91 193h1M94 193h1M129 193h1M133 193h1M212 193h1M331 193h1M345 193h1M352 193h1M354 193h1M385 193h2M390 193h1M394 193h1M93 194h1M350 194h1M352 194h1M387 194h1M390 194h1M394 194h1M80 195h1M86 195h1M131 195h1M139 195h1M330 195h1M342 195h1M349 195h1M387 195h1M389 195h1M75 196h1M89 196h1M95 196h1M126 196h1M129 196h1M159 196h1M384 196h1M393 196h1M86 197h1M94 197h1M135 197h1M340 197h1M348 197h1M351 197h1M353 197h1M356 197h1M394 197h1M126 198h1M163 198h1M340 198h1M344 198h2M357 198h1M98 199h1M124 199h1M139 199h1M172 199h1M359 199h1M382 199h1M384 199h1M394 199h1M402 199h1M413 199h1M69 200h1M93 200h1M95 200h1M124 200h1M146 200h1M173 200h1M354 200h4M381 200h1M383 200h2M397 200h1M95 201h1M98 201h1M122 201h1M136 201h1M145 201h1M349 201h1M352 201h1M355 201h1M385 201h1M121 202h1M146 202h2M355 202h1M386 202h2M391 202h1M399 202h1M94 203h1M159 203h1M346 203h1M359 203h1M380 203h2M387 203h1M389 203h1M399 203h1M95 204h1M128 204h1M139 204h1M335 204h1M357 204h1M382 204h1M385 204h2M83 205h3M92 205h1M98 205h1M125 205h1M133 205h1M350 205h1M355 205h1M357 205h1M359 205h1M381 205h1M388 205h1M405 205h1M414 205h1M448 205h1M122 206h1M130 206h1M134 206h1M145 206h1M194 206h1M354 206h1M357 206h1M359 206h1M382 206h1M92 207h1M99 207h1M355 207h1M357 207h2M384 207h1M87 208h1M90 208h1M93 208h1M123 208h2M129 208h1M351 208h1M357 208h1M360 208h1M381 208h1M387 208h1M389 208h2M79 209h1M97 209h1M121 209h1M124 209h1M126 209h1M139 209h1M142 209h1M346 209h1M380 209h1M396 209h1M90 210h1M93 210h1M122 210h1M339 210h1M353 210h1M358 210h2M380 210h4M385 210h1M387 210h1M376 347h1M186 359h1M172 365h1M192 366h1M182 368h1M180 369h1M183 369h1M178 370h1M188 370h1M444 372h1M178 373h1M178 374h1M446 374h1M171 375h1M144 376h1M162 376h1M167 376h1M170 376h1M173 376h1M177 376h1M444 376h1M165 377h1M168 377h1M171 377h1M441 377h4M176 378h1M178 378h1M344 378h1M169 379h1M179 379h2M440 379h1M142 380h1M176 380h1M76 381h1M141 381h1M168 381h1M175 381h1M443 381h1M134 382h1M165 382h1M176 382h1M355 382h1M437 382h1M167 383h2M444 383h1M153 385h1M172 385h1M431 385h1M153 386h1M158 386h2M173 386h1M389 386h1M100 387h1M165 387h1M428 387h1M158 388h1M163 388h1M427 388h1M432 388h2M439 388h1M151 389h1M165 389h1M431 389h1M433 389h2M422 390h2M434 390h2M150 391h1M161 391h1M367 391h1M414 391h1M421 391h1M74 392h1M152 392h1M159 392h2M388 392h1M427 392h1M436 392h1M102 393h1M147 393h1M150 393h1M152 393h1M161 393h1M381 393h1M423 393h1M426 393h1M428 393h1M430 393h1M83 394h1M150 394h1M154 394h2M425 394h1M150 395h1M166 395h1M411 395h1M423 395h2M151 396h1M368 396h1M422 396h1M147 397h1M157 397h1M425 397h1M150 398h1M156 398h1M193 398h1M351 398h1M415 398h1M417 398h1M139 399h1M142 399h1M144 399h1M152 399h1M171 399h1M412 399h1M89 400h1M124 400h1M142 400h1M147 400h1M152 400h1M414 400h1M418 400h1M421 400h3M127 401h1M342 401h1M415 401h1M421 401h1M142 402h1M411 402h1M418 402h1M421 402h1M84 403h1M131 403h1M148 403h1M150 403h1M157 403h1M175 403h1M366 403h1M387 403h1M412 403h1M419 403h1M74 404h1M133 404h2M139 404h1M141 404h1M144 404h1M146 404h1M363 404h1M408 404h1M425 404h1M447 404h1M109 405h1M143 405h1M382 405h1M389 405h1M392 405h1M405 405h1M415 405h1M417 405h1M112 406h1M124 406h1M136 406h3M144 406h1M174 406h1M367 406h1M401 406h1M407 406h1M413 406h1M418 406h1M110 407h1M130 407h1M132 407h1M138 407h2M145 407h1M345 407h1M417 407h1M77 408h1M141 408h1M145 408h1M368 408h1M386 408h1M410 408h1M412 408h1M421 408h1M118 409h1M132 409h1M408 409h1M90 410h1M103 410h1M147 410h1M375 410h1M388 410h1M406 410h2M409 410h1M130 411h1M134 411h1M142 411h1M382 411h1M409 411h1M133 412h1M136 412h1M374 412h1M383 412h1M401 412h1M403 412h1M411 412h1M107 413h1M133 413h1M337 413h1M353 413h1M377 413h1M381 413h1M389 413h1M402 413h1M407 413h1M104 414h1M107 414h1M119 414h1M123 414h1M126 414h1M130 414h1M135 414h1M139 414h1M148 414h1M328 414h1M330 414h1M401 414h1M403 414h1M82 415h1M89 415h1M96 415h1M110 415h1M115 415h1M125 415h1M132 415h2M330 415h1M339 415h1M368 415h1M392 415h1M395 415h1M400 415h1M103 416h1M107 416h1M112 416h1M120 416h1M132 416h1M193 416h1M334 416h1M352 416h1M384 416h1M393 416h1M399 416h1M91 417h1M103 417h1M108 417h1M110 417h1M129 417h2M169 417h1M355 417h1M377 417h1M382 417h1M393 417h1M399 417h1M82 418h1M107 418h1M112 418h2M127 418h1M132 418h2M149 418h1M187 418h1M338 418h1M351 418h1M376 418h1M392 418h1M400 418h2M90 419h1M98 419h1M107 419h1M120 419h1M129 419h1M139 419h1M351 419h2M354 419h1M361 419h1M369 419h1M373 419h1M384 419h3M388 419h1M398 419h1M401 419h1M403 419h1M87 420h1M102 420h1M105 420h1M107 420h1M114 420h1M118 420h2M127 420h1M137 420h1M334 420h1M336 420h1M343 420h1M355 420h1M358 420h1M366 420h1M369 420h2M372 420h1M387 420h1M399 420h1M401 420h1M88 421h1M91 421h1M108 421h1M110 421h1M132 421h1M341 421h1M353 421h1M372 421h1M374 421h1M378 421h1M385 421h1M400 421h1M77 422h1M95 422h1M110 422h1M113 422h1M115 422h1M130 422h1M132 422h1M135 422h1M353 422h1M355 422h1M359 422h1M369 422h1M372 422h1M379 422h1M383 422h1M395 422h1M70 423h1M84 423h1M87 423h1M95 423h2M98 423h1M103 423h1M122 423h1M135 423h1M351 423h2M356 423h1M365 423h1M381 423h1M389 423h1M91 424h3M96 424h1M101 424h1M106 424h1M114 424h1M121 424h1M123 424h1M126 424h1M336 424h1M346 424h1M352 424h1M354 424h2M360 424h1M366 424h1M370 424h2M377 424h1M385 424h1M387 424h2M395 424h1M71 425h1M87 425h1M97 425h2M105 425h1M111 425h1M117 425h1M119 425h2M330 425h1M338 425h2M350 425h1M353 425h1M355 425h1M365 425h1M368 425h1M370 425h1M372 425h1M376 425h2M379 425h1M397 425h1M437 425h1M75 426h1M81 426h1M93 426h1M99 426h1M115 426h1M127 426h1M130 426h1M340 426h2M351 426h1M358 426h1M369 426h1M378 426h1M385 426h1M83 427h1M91 427h1M93 427h1M117 427h1M125 427h1M130 427h1M133 427h1M337 427h1M340 427h1M345 427h1M350 427h1M353 427h1M359 427h1M384 427h1M386 427h1M395 427h1M76 428h1M79 428h1M86 428h1M89 428h1M95 428h1M99 428h1M103 428h2M124 428h1M134 428h1M181 428h1M336 428h1M338 428h1M380 428h1M384 428h1M395 428h1M75 429h1M82 429h1M85 429h1M88 429h1M91 429h1M101 429h1M124 429h1M329 429h1M331 429h1M333 429h1M344 429h1M382 429h2M392 429h1M396 429h1M408 429h1M72 430h1M74 430h1M76 430h2M87 430h1M89 430h1M99 430h1M129 430h1M336 430h2M339 430h1M342 430h1M352 430h2M381 430h1M387 430h2M390 430h1M394 430h1M70 431h1M79 431h1M87 431h1M91 431h1M93 431h1M96 431h1M166 431h1M342 431h2M345 431h1M349 431h1M382 431h1M385 431h3M72 432h1M77 432h1M82 432h1M87 432h3M125 432h1M139 432h1M141 432h1M328 432h1M340 432h1M344 432h1M390 432h1M89 433h1M129 433h1M330 433h1M340 433h1M342 433h1M387 433h1M72 434h3M89 434h1M124 434h1M134 434h1M329 434h1M334 434h1M342 434h1M388 434h1M391 434h1M73 435h1M80 435h1M84 435h1M87 435h1M124 435h1M132 435h1M136 435h1M329 435h1M331 435h1M338 435h1M386 435h1M390 435h1M398 435h1M71 436h1M73 436h1M130 436h1M138 436h1M182 436h1M328 436h1M405 436h1M408 436h1M82 437h1M135 437h1M146 437h1M165 437h1M188 437h1M328 437h1M330 437h3M382 437h2M389 437h1M391 437h1M76 438h1M81 438h1M123 438h1M128 438h1M328 438h2M381 438h2M76 439h2M131 439h1M328 439h1M330 439h1M386 439h1M69 440h1M74 440h1M125 440h1M127 440h2M131 440h1M331 440h1M383 440h1M483 440h1M75 441h2M121 441h1M126 441h1M130 441h1M328 441h1M331 441h1M435 441h1M479 441h1M126 442h1M148 442h1M328 442h1M331 442h1M405 442h1M427 442h1M70 443h1M131 443h2M141 443h1M219 443h1M221 443h1M330 443h1M387 443h3M392 443h1M398 443h1M407 443h1M425 443h1M120 444h1M127 444h1M130 444h1M139 444h1M477 444h1M480 444h1M69 445h1M122 445h1M131 445h1M220 445h1M383 445h1M69 446h1M123 446h1M130 446h1M155 446h1M207 446h1M212 446h1M214 446h1M473 446h1M74 447h1M123 447h1M126 447h1M134 447h1M139 447h1M212 447h2M216 447h1M219 447h1M329 447h1M389 447h1M400 447h1M474 447h1M69 448h1M71 448h1M123 448h1M209 448h1M331 448h1M383 448h1M396 448h1M465 448h1M473 448h1M129 449h1M215 449h1M385 449h1M398 449h1M461 449h1M465 449h1M468 449h1M199 450h1M201 450h1M328 450h1M378 450h1M387 450h1M391 450h1M462 450h1M69 451h1M74 451h1M119 451h1M122 451h2M125 451h1M131 451h1M202 451h1M329 451h1M377 451h1M382 451h2M416 451h1M73 452h2M122 452h1M329 452h1M377 452h3M382 452h1M386 452h1M388 452h1M406 452h1M70 453h1M121 453h1M150 453h1M158 453h1M217 453h2M127 454h1M200 454h1M328 454h1M390 454h1M69 455h1M119 455h1M124 455h1M126 455h1M199 455h1M378 455h1M380 455h1M387 455h1M395 455h1M397 455h1M435 455h1M134 456h2M216 456h1M329 456h1M331 456h1M116 457h1M118 457h1M126 457h2M146 457h1M329 457h1M336 457h1M380 457h1M388 457h1M70 458h1M116 458h1M118 458h1M381 458h1M120 459h1M127 459h1M334 459h1M336 459h1M70 460h1M72 460h1M77 460h1M116 460h1M119 460h1M128 460h1M331 460h1M378 460h1M71 461h1M75 461h1M115 461h1M199 461h1M330 461h1M379 461h1M381 461h1M391 461h1M396 461h1M459 461h1M113 462h1M118 462h1M122 462h1M129 462h2M134 462h1M211 462h1M330 462h1M336 462h1M376 462h1M380 462h1M382 462h1M468 462h1M73 463h1M76 463h1M116 463h1M119 463h1M337 463h1M376 463h1M382 463h1M394 463h1M461 463h1M115 464h1M120 464h1M335 464h1M374 464h1M377 464h3M434 464h1M459 464h1M469 464h1M74 465h1M113 465h1M336 465h1M340 465h1M370 465h1M372 465h1M374 465h1M380 465h1M383 465h1M406 465h1M461 465h1M72 466h1M75 466h2M184 466h1M331 466h1M333 466h1M338 466h3M377 466h1M381 466h1M69 467h1M76 467h1M112 467h1M331 467h1M335 467h1M339 467h2M390 467h1M416 467h1M71 468h1M76 468h1M78 468h1M112 468h1M122 468h1M333 468h2M339 468h1M370 468h1M374 468h1M402 468h1M71 469h2M117 469h1M404 469h1M69 470h2M77 470h1M80 470h1M109 470h1M113 470h1M341 470h1M77 471h1M79 471h1M113 471h2M127 471h1M368 471h1M372 471h2M75 472h1M108 472h2M113 472h1M335 472h1M342 472h1M344 472h1M378 472h1M74 473h1M80 473h1M117 473h1M120 473h1M129 473h1M157 473h1M343 473h1M370 473h1M384 473h1M81 474h1M83 474h1M108 474h1M117 474h1M125 474h1M70 475h1M80 475h1M111 475h1M118 475h1M124 475h1M133 475h1M337 475h1M345 475h1M379 475h1M69 476h1M108 476h2M119 476h1M124 476h1M132 476h1M175 476h1M334 476h1M336 476h1M341 476h1M346 476h1M378 476h1M80 477h1M83 477h1M111 477h1M117 477h1M343 477h4M371 477h1M375 477h1M385 477h1M75 478h1M107 478h1M139 478h1M337 478h1M343 478h1M368 478h1M375 478h1M394 478h1M406 478h1M443 478h1M108 479h1M110 479h1M340 479h1M342 479h1M366 479h1M369 479h1M382 479h1M444 479h1M80 480h1M106 480h1M338 480h1M366 480h2M369 480h1M91 481h1M126 481h1"/><path stroke="#f00a0e" d="M390 99h1M191 100h1M190 102h1M187 106h1M190 107h1M180 108h1M186 109h1M174 110h1M181 110h1M186 112h1M153 113h1M181 113h1M185 113h1M454 113h1M174 114h1M178 115h1M365 115h1M174 116h1M177 116h1M180 116h1M173 117h1M387 119h1M171 120h1M181 120h1M112 121h1M168 121h1M173 121h1M374 121h1M441 121h1M444 121h1M174 122h1M178 122h1M380 122h1M435 122h1M443 122h1M445 122h1M170 123h1M173 123h1M372 123h1M385 123h1M438 123h1M127 124h1M165 124h1M180 124h1M437 124h1M162 125h1M166 125h1M334 125h1M440 125h1M442 125h1M167 126h1M170 126h1M361 126h1M370 126h1M439 126h1M448 126h1M124 127h1M156 127h1M360 127h1M437 127h1M439 127h1M395 128h1M436 128h1M440 128h1M115 129h1M161 129h1M166 129h2M170 129h1M370 129h1M384 129h1M388 129h1M437 129h2M118 130h1M175 130h1M428 130h1M432 130h1M435 130h2M439 130h1M391 131h1M430 131h4M436 131h1M438 131h1M159 132h1M369 132h1M400 132h1M423 132h1M434 132h1M154 133h1M159 133h1M371 133h1M425 133h1M428 133h1M155 134h1M160 134h1M352 134h1M361 134h1M386 134h1M421 134h1M423 134h1M427 134h1M429 134h1M160 135h1M353 135h1M390 135h1M74 136h1M95 136h1M119 136h1M155 136h1M159 136h1M162 136h1M373 136h1M387 136h1M419 136h1M425 136h1M427 136h1M429 136h1M151 137h1M354 137h1M390 137h1M401 137h1M422 137h1M427 137h2M137 138h1M156 138h1M363 138h1M387 138h1M396 138h1M398 138h1M421 138h1M426 138h2M429 138h1M135 139h1M355 139h1M370 139h1M379 139h1M386 139h1M412 139h1M415 139h1M424 139h1M153 140h1M158 140h1M364 140h1M388 140h1M398 140h1M415 140h1M419 140h1M428 140h1M86 141h1M130 141h1M151 141h2M349 141h1M363 141h1M367 141h1M369 141h1M377 141h1M382 141h1M385 141h1M396 141h1M403 141h1M412 141h1M419 141h1M423 141h1M82 142h1M103 142h1M146 142h1M149 142h1M154 142h1M350 142h1M375 142h1M383 142h1M387 142h1M391 142h1M406 142h1M417 142h1M419 142h1M113 143h1M148 143h1M374 143h1M381 143h1M386 143h2M391 143h1M393 143h1M411 143h2M414 143h1M418 143h1M106 144h1M108 144h1M137 144h1M151 144h1M351 144h1M362 144h1M365 144h2M371 144h1M375 144h1M379 144h1M382 144h2M385 144h1M389 144h1M392 144h1M400 144h1M408 144h1M422 144h1M98 145h1M101 145h1M119 145h1M145 145h1M150 145h1M361 145h1M367 145h2M372 145h1M379 145h1M381 145h2M385 145h1M390 145h1M399 145h1M407 145h2M134 146h1M137 146h1M147 146h1M367 146h2M377 146h1M382 146h1M390 146h1M414 146h2M99 147h1M103 147h1M116 147h1M128 147h1M130 147h1M146 147h1M148 147h1M344 147h2M361 147h2M366 147h1M369 147h1M380 147h2M386 147h1M389 147h1M395 147h1M400 147h1M404 147h1M408 147h1M410 147h1M414 147h1M104 148h1M115 148h1M119 148h2M122 148h1M145 148h3M166 148h1M339 148h1M354 148h1M366 148h1M370 148h1M372 148h1M374 148h2M379 148h2M382 148h1M384 148h1M400 148h1M405 148h1M408 148h3M413 148h1M425 148h1M113 149h1M127 149h1M134 149h1M138 149h1M141 149h2M145 149h1M148 149h1M343 149h1M357 149h1M366 149h1M388 149h1M390 149h1M397 149h2M407 149h1M82 150h1M110 150h1M123 150h1M125 150h1M133 150h1M137 150h1M354 150h1M356 150h1M360 150h1M362 150h2M366 150h1M386 150h1M388 150h2M395 150h2M404 150h1M410 150h1M124 151h1M144 151h2M147 151h3M355 151h1M363 151h1M389 151h1M396 151h2M402 151h2M406 151h1M431 151h1M102 152h2M113 152h1M116 152h1M119 152h1M128 152h2M132 152h1M134 152h1M143 152h1M153 152h1M351 152h1M356 152h1M358 152h1M396 152h1M398 152h3M404 152h1M99 153h1M111 153h1M125 153h2M132 153h1M134 153h1M137 153h1M144 153h1M151 153h1M159 153h1M355 153h1M359 153h1M361 153h1M363 153h1M390 153h1M396 153h1M402 153h1M407 153h1M105 154h1M109 154h1M116 154h1M124 154h1M126 154h1M128 154h1M130 154h1M133 154h1M138 154h1M147 154h1M151 154h1M197 154h1M352 154h1M356 154h1M358 154h1M362 154h1M392 154h1M396 154h1M399 154h1M402 154h1M101 155h1M108 155h1M111 155h3M115 155h1M117 155h1M119 155h1M121 155h1M126 155h1M128 155h1M130 155h1M137 155h1M142 155h1M146 155h1M341 155h1M349 155h1M354 155h1M356 155h1M359 155h1M392 155h2M395 155h1M400 155h3M404 155h1M95 156h2M100 156h1M104 156h3M110 156h1M112 156h1M114 156h1M138 156h1M145 156h1M155 156h1M356 156h1M400 156h1M99 157h2M104 157h1M117 157h2M123 157h2M133 157h1M135 157h1M148 157h1M344 157h1M351 157h1M357 157h2M393 157h1M397 157h1M399 157h2M403 157h2M98 158h1M108 158h1M113 158h1M134 158h1M136 158h1M140 158h1M146 158h1M148 158h1M358 158h1M393 158h2M398 158h2M401 158h1M409 158h1M108 159h1M110 159h1M112 159h1M135 159h1M139 159h2M147 159h1M335 159h1M343 159h1M353 159h1M355 159h2M402 159h1M405 159h1M84 160h1M89 160h1M96 160h1M102 160h1M105 160h2M141 160h2M152 160h1M349 160h2M355 160h1M395 160h1M401 160h1M414 160h1M102 161h2M105 161h2M108 161h1M138 161h2M350 161h1M353 161h1M397 161h3M93 162h1M100 162h1M102 162h3M107 162h1M137 162h1M346 162h1M394 162h1M398 162h1M401 162h1M97 163h2M100 163h4M106 163h1M138 163h1M141 163h1M154 163h1M167 163h1M351 163h1M397 163h1M407 163h1M99 164h1M103 164h1M139 164h1M145 164h1M342 164h1M347 164h2M354 164h1M402 164h1M94 165h2M99 165h1M101 165h1M138 165h2M150 165h1M396 165h2M401 165h2M409 165h1M82 166h1M93 166h1M95 166h1M98 166h3M136 166h1M139 166h3M157 166h1M349 166h2M401 166h1M88 167h1M92 167h1M94 167h1M96 167h1M98 167h1M137 167h1M141 167h1M143 167h1M159 167h1M346 167h1M348 167h2M351 167h1M353 167h1M396 167h1M402 167h1M95 168h1M97 168h2M138 168h1M143 168h1M147 168h2M330 168h1M342 168h1M349 168h1M351 168h1M402 168h1M469 168h1M94 169h1M97 169h2M136 169h1M139 169h1M143 169h1M172 169h1M334 169h1M339 169h1M345 169h1M347 169h1M398 169h1M407 169h1M89 170h1M93 170h1M143 170h1M151 170h1M167 170h1M347 170h2M351 170h3M394 170h1M401 170h1M86 171h1M94 171h2M139 171h1M142 171h1M144 171h1M149 171h1M353 171h1M398 171h1M405 171h1M92 172h1M94 172h2M140 172h1M147 172h1M341 172h1M344 172h1M393 172h2M400 172h1M85 173h1M88 173h1M90 173h1M96 173h1M148 173h1M169 173h1M338 173h1M349 173h2M353 173h1M395 173h2M69 174h1M84 174h1M86 174h1M89 174h2M138 174h1M346 174h1M349 174h3M400 174h1M409 174h2M462 174h1M84 175h1M137 175h1M141 175h1M185 175h1M352 175h1M392 175h1M394 175h2M397 175h1M91 176h1M94 176h1M137 176h1M146 176h2M150 176h1M332 176h1M350 176h1M391 176h1M399 176h1M483 176h1M71 177h1M76 177h1M86 177h1M90 177h1M135 177h1M137 177h1M145 177h1M346 177h1M348 177h1M352 177h1M391 177h1M393 177h1M84 178h1M86 178h1M90 178h3M212 178h1M216 178h1M218 178h1M347 178h2M351 178h2M399 178h1M75 179h1M79 179h1M92 179h2M135 179h1M144 179h1M216 179h1M343 179h1M353 179h1M395 179h2M398 179h1M464 179h1M89 180h1M91 180h1M134 180h1M141 180h1M350 180h3M390 180h1M394 180h1M396 180h1M399 180h1M417 180h1M468 180h1M470 180h1M477 180h1M77 181h2M87 181h1M135 181h1M145 181h1M343 181h1M350 181h1M352 181h1M389 181h1M392 181h1M394 181h1M396 181h1M76 182h1M87 182h1M91 182h2M135 182h2M138 182h1M338 182h1M346 182h1M351 182h1M390 182h1M393 182h1M401 182h1M462 182h1M91 183h1M138 183h1M145 183h1M201 183h1M203 183h1M350 183h1M352 183h2M393 183h1M395 183h1M405 183h1M90 184h1M132 184h1M136 184h1M216 184h2M350 184h2M390 184h2M402 184h1M404 184h1M79 185h1M82 185h1M91 185h1M94 185h1M132 185h2M340 185h1M343 185h1M349 185h1M352 185h1M388 185h1M392 185h1M395 185h1M399 185h1M404 185h1M72 186h1M77 186h1M79 186h1M87 186h1M92 186h1M144 186h1M201 186h1M349 186h1M351 186h1M389 186h2M395 186h1M463 186h1M88 187h1M134 187h1M204 187h1M215 187h1M347 187h1M353 187h1M386 187h1M388 187h1M390 187h1M400 187h1M84 188h1M87 188h4M92 188h1M95 188h1M130 188h2M133 188h1M155 188h1M203 188h1M215 188h1M346 188h1M350 188h1M393 188h1M398 188h1M75 189h1M90 189h1M94 189h1M128 189h1M132 189h1M134 189h1M137 189h1M142 189h1M351 189h2M355 189h1M385 189h1M387 189h1M474 189h1M86 190h1M127 190h2M131 190h1M143 190h1M214 190h1M345 190h1M348 190h2M351 190h1M354 190h1M386 190h3M391 190h1M406 190h1M472 190h1M475 190h1M80 191h1M92 191h1M94 191h1M96 191h1M127 191h2M140 191h1M151 191h1M153 191h1M347 191h1M384 191h1M390 191h1M477 191h1M85 192h1M88 192h1M91 192h1M95 192h1M129 192h1M137 192h1M203 192h2M350 192h1M383 192h2M466 192h1M80 193h1M93 193h1M95 193h1M130 193h3M205 193h1M213 193h1M384 193h1M397 193h1M465 193h1M78 194h1M94 194h1M96 194h1M127 194h1M129 194h2M134 194h1M136 194h1M138 194h1M340 194h1M349 194h1M354 194h1M356 194h1M382 194h1M385 194h1M395 194h1M92 195h3M130 195h1M134 195h1M152 195h1M346 195h1M355 195h2M385 195h2M397 195h1M91 196h1M96 196h2M124 196h1M127 196h2M131 196h1M147 196h1M150 196h1M350 196h1M354 196h2M357 196h1M382 196h1M395 196h1M93 197h1M95 197h1M98 197h1M125 197h1M134 197h1M349 197h1M354 197h1M358 197h1M385 197h1M391 197h1M96 198h1M123 198h1M125 198h1M131 198h2M382 198h1M125 199h1M129 199h1M131 199h1M137 199h1M145 199h1M350 199h1M354 199h1M381 199h1M386 199h1M75 200h1M79 200h2M92 200h1M123 200h1M125 200h1M129 200h2M340 200h1M380 200h1M389 200h1M86 201h3M90 201h1M97 201h1M124 201h1M127 201h1M137 201h1M140 201h1M155 201h1M348 201h1M357 201h1M359 201h1M382 201h1M386 201h1M388 201h1M90 202h1M93 202h1M95 202h1M98 202h1M123 202h1M150 202h1M357 202h1M380 202h1M89 203h1M91 203h1M95 203h2M99 203h1M123 203h2M129 203h1M341 203h1M383 203h1M392 203h1M76 204h1M86 204h1M90 204h1M93 204h2M96 204h3M122 204h2M131 204h1M349 204h1M379 204h1M381 204h1M383 204h1M387 204h1M95 205h2M100 205h1M124 205h1M360 205h1M378 205h1M383 205h2M95 206h2M99 206h1M123 206h1M147 206h1M348 206h1M356 206h1M358 206h1M378 206h2M384 206h2M394 206h1M93 207h3M101 207h1M130 207h1M338 207h1M361 207h1M378 207h4M383 207h1M385 207h2M86 208h1M88 208h1M96 208h1M120 208h2M126 208h1M131 208h1M153 208h1M356 208h1M377 208h1M382 208h2M80 209h1M100 209h2M118 209h1M120 209h1M125 209h1M358 209h1M406 209h1M97 210h1M100 210h1M119 210h1M123 210h1M132 210h1M357 210h1M378 210h1M177 370h1M445 373h1M344 374h1M445 375h1M354 377h1M171 378h1M377 379h1M172 380h2M164 381h2M441 382h1M163 383h1M164 385h1M434 385h1M167 386h1M431 386h1M434 386h1M431 387h1M436 387h1M142 388h1M430 388h1M436 388h1M441 388h1M163 389h1M153 390h1M426 390h1M432 390h1M163 391h1M427 391h1M429 391h1M433 391h1M435 391h1M437 391h1M430 392h1M156 393h1M424 393h1M436 393h1M438 393h1M424 394h1M426 394h2M421 395h1M425 395h2M429 395h1M158 396h1M418 396h1M421 396h1M423 396h1M102 397h1M153 397h1M155 397h1M420 397h2M423 397h1M146 398h1M149 398h1M419 398h1M423 398h1M418 399h1M351 400h1M400 400h1M419 400h1M426 400h1M419 401h2M92 402h1M104 402h1M107 402h1M352 402h1M408 402h1M414 402h1M419 402h1M423 402h1M95 403h1M121 403h1M382 403h1M397 403h1M410 403h1M413 403h1M418 403h1M137 404h1M145 404h1M409 404h1M414 404h2M417 404h1M164 405h1M358 405h1M376 405h1M407 405h1M410 405h1M420 405h1M143 406h1M369 406h1M410 406h2M417 406h1M105 407h1M164 407h1M338 407h1M366 407h1M377 407h1M409 407h4M414 407h1M100 408h1M409 408h1M134 409h1M386 409h1M406 409h1M409 409h1M98 410h1M113 410h1M381 411h1M401 411h1M403 411h2M410 411h1M93 412h1M117 412h1M120 412h1M137 412h1M343 412h1M375 412h1M400 412h1M405 412h2M89 413h1M129 413h1M135 413h1M355 413h2M363 413h1M385 413h1M401 413h1M403 413h1M405 413h1M95 414h1M106 414h1M122 414h1M125 414h1M128 414h1M384 414h1M392 414h1M396 414h1M398 414h2M402 414h1M139 415h1M331 415h1M391 415h1M398 415h2M404 415h1M84 416h1M131 416h1M355 416h1M361 416h1M366 416h1M370 416h1M388 416h1M397 416h1M84 417h1M97 417h1M125 417h1M352 417h1M357 417h1M398 417h1M403 417h1M88 418h1M106 418h1M119 418h1M123 418h1M360 418h1M365 418h1M375 418h1M386 418h1M394 418h2M397 418h1M109 419h1M119 419h1M122 419h1M360 419h1M380 419h1M396 419h1M405 419h1M112 420h2M121 420h1M123 420h1M126 420h1M146 420h1M335 420h1M384 420h1M390 420h1M393 420h1M395 420h1M73 421h2M76 421h1M99 421h1M107 421h1M109 421h1M117 421h1M123 421h1M128 421h1M346 421h1M364 421h1M376 421h1M386 421h1M388 421h1M395 421h1M402 421h1M85 422h1M101 422h1M109 422h1M118 422h1M121 422h1M360 422h1M366 422h1M374 422h1M386 422h1M391 422h3M104 423h1M106 423h3M115 423h1M119 423h2M125 423h1M161 423h1M340 423h1M359 423h2M364 423h1M367 423h2M371 423h1M378 423h3M388 423h1M397 423h1M94 424h1M97 424h1M107 424h1M111 424h2M116 424h1M122 424h1M124 424h1M127 424h2M133 424h1M337 424h1M350 424h1M356 424h1M362 424h1M368 424h2M372 424h1M378 424h1M384 424h1M389 424h1M391 424h1M400 424h1M90 425h1M102 425h1M104 425h1M106 425h1M108 425h1M112 425h1M114 425h2M126 425h1M130 425h1M138 425h1M334 425h2M340 425h2M347 425h1M351 425h1M359 425h1M363 425h1M367 425h1M371 425h1M373 425h1M381 425h1M385 425h2M388 425h1M390 425h1M82 426h1M104 426h1M107 426h1M110 426h2M113 426h1M116 426h1M119 426h2M122 426h1M125 426h1M334 426h1M347 426h1M349 426h2M352 426h1M356 426h1M361 426h2M364 426h3M368 426h1M371 426h1M374 426h4M380 426h2M383 426h1M388 426h1M396 426h1M97 427h2M100 427h1M102 427h1M104 427h3M109 427h1M111 427h1M113 427h1M120 427h1M122 427h1M137 427h1M147 427h1M348 427h1M351 427h1M355 427h1M357 427h1M362 427h3M371 427h1M373 427h1M377 427h2M380 427h1M388 427h2M391 427h1M94 428h1M96 428h2M100 428h2M117 428h1M120 428h1M126 428h1M128 428h1M130 428h1M136 428h1M144 428h1M335 428h1M343 428h1M351 428h1M357 428h2M364 428h1M382 428h1M387 428h1M391 428h1M79 429h1M84 429h1M87 429h1M89 429h1M99 429h2M104 429h1M123 429h1M340 429h1M343 429h1M345 429h2M348 429h2M351 429h1M353 429h1M381 429h1M384 429h1M391 429h1M73 430h1M78 430h1M86 430h1M88 430h1M91 430h3M95 430h1M101 430h1M122 430h2M126 430h1M128 430h1M132 430h1M335 430h1M343 430h1M349 430h2M383 430h2M389 430h1M409 430h1M71 431h1M78 431h1M80 431h1M82 431h1M85 431h1M95 431h1M97 431h2M123 431h1M133 431h1M332 431h1M335 431h1M338 431h1M340 431h1M384 431h1M388 431h1M392 431h1M73 432h1M75 432h2M79 432h2M85 432h1M90 432h3M123 432h1M128 432h2M135 432h1M330 432h1M336 432h1M341 432h1M346 432h1M388 432h1M391 432h1M77 433h1M80 433h1M85 433h1M87 433h1M92 433h1M95 433h1M125 433h1M132 433h1M328 433h1M334 433h1M336 433h2M339 433h1M341 433h1M343 433h1M383 433h1M396 433h1M71 434h1M75 434h1M77 434h1M80 434h1M86 434h1M88 434h1M91 434h1M122 434h1M125 434h1M130 434h1M136 434h1M332 434h1M340 434h2M394 434h1M89 435h1M123 435h1M130 435h1M133 435h1M137 435h1M333 435h1M336 435h2M382 435h3M391 435h1M75 436h2M79 436h2M85 436h1M123 436h2M133 436h1M137 436h1M331 436h3M338 436h1M382 436h1M400 436h1M70 437h1M72 437h1M79 437h2M84 437h1M122 437h1M129 437h1M334 437h1M381 437h1M387 437h1M392 437h1M80 438h1M82 438h1M126 438h1M334 438h1M380 438h1M384 438h2M390 438h1M394 438h1M74 439h1M79 439h1M124 439h1M138 439h1M329 439h1M333 439h1M380 439h1M385 439h1M390 439h1M78 440h1M122 440h2M129 440h1M133 440h1M330 440h1M382 440h1M385 440h1M73 441h1M77 441h1M132 441h1M142 441h1M332 441h1M380 441h1M386 441h1M390 441h1M397 441h1M71 442h1M74 442h3M121 442h1M330 442h1M332 442h1M382 442h2M72 443h1M75 443h1M328 443h1M385 443h2M395 443h1M71 444h1M123 444h1M125 444h2M330 444h1M384 444h1M121 445h1M124 445h1M126 445h1M129 445h1M379 445h1M387 445h2M401 445h1M411 445h1M70 446h2M74 446h1M124 446h1M131 446h1M216 446h2M328 446h4M379 446h7M413 446h1M71 447h2M120 447h1M124 447h1M131 447h1M214 447h1M331 447h2M382 447h1M470 447h1M119 448h1M132 448h1M136 448h1M329 448h1M332 448h1M379 448h1M389 448h1M461 448h1M469 448h1M472 448h1M474 448h1M72 449h1M75 449h1M120 449h3M124 449h1M208 449h1M328 449h1M331 449h2M380 449h1M474 449h1M70 450h1M73 450h1M124 450h1M127 450h1M330 450h1M382 450h1M384 450h1M467 450h1M474 450h1M72 451h2M120 451h1M126 451h1M128 451h2M328 451h1M331 451h3M378 451h2M391 451h1M399 451h1M462 451h1M75 452h1M123 452h1M127 452h1M131 452h1M135 452h1M330 452h1M333 452h1M375 452h1M380 452h2M426 452h1M475 452h1M478 452h1M72 453h2M116 453h1M200 453h1M202 453h1M328 453h1M332 453h2M377 453h1M458 453h2M70 454h1M73 454h1M118 454h2M126 454h1M142 454h2M199 454h1M202 454h1M217 454h1M330 454h3M375 454h1M377 454h1M379 454h3M397 454h1M472 454h1M71 455h1M73 455h1M75 455h1M117 455h2M215 455h2M330 455h1M379 455h1M384 455h2M389 455h1M71 456h1M73 456h2M118 456h1M215 456h1M332 456h1M375 456h1M379 456h1M471 456h1M72 457h1M114 457h1M117 457h1M122 457h1M136 457h1M213 457h2M216 457h1M332 457h1M374 457h1M376 457h1M383 457h1M458 457h1M115 458h1M201 458h1M215 458h1M332 458h2M336 458h1M376 458h1M378 458h1M383 458h1M457 458h1M459 458h1M70 459h1M74 459h1M113 459h2M121 459h2M129 459h1M135 459h1M199 459h1M201 459h1M213 459h1M215 459h1M328 459h1M333 459h1M374 459h3M386 459h1M460 459h1M75 460h2M115 460h1M117 460h2M129 460h1M329 460h1M334 460h1M336 460h1M374 460h1M377 460h1M78 461h1M213 461h1M332 461h1M335 461h1M372 461h5M467 461h1M73 462h3M114 462h1M328 462h1M331 462h1M333 462h1M338 462h1M372 462h1M467 462h1M75 463h1M114 463h1M135 463h1M202 463h1M209 463h1M335 463h2M373 463h1M460 463h1M75 464h2M79 464h2M113 464h2M130 464h1M332 464h1M336 464h1M338 464h3M370 464h3M461 464h1M465 464h2M75 465h1M77 465h1M80 465h1M112 465h1M118 465h2M121 465h1M203 465h1M331 465h1M334 465h1M339 465h1M375 465h1M70 466h1M78 466h1M341 466h1M372 466h1M374 466h1M378 466h1M74 467h1M79 467h2M111 467h1M116 467h1M334 467h1M338 467h1M343 467h1M372 467h1M374 467h1M79 468h1M81 468h2M109 468h1M114 468h1M117 468h1M336 468h2M341 468h1M371 468h3M376 468h1M384 468h2M74 469h1M80 469h1M110 469h1M113 469h1M115 469h1M126 469h1M132 469h1M337 469h1M342 469h2M368 469h2M372 469h1M374 469h1M412 469h1M81 470h2M114 470h1M139 470h1M336 470h1M340 470h1M342 470h1M345 470h1M373 470h2M73 471h1M81 471h1M111 471h1M118 471h2M338 471h1M369 471h1M371 471h1M378 471h1M381 471h1M73 472h1M78 472h2M116 472h1M339 472h1M343 472h1M368 472h1M373 472h1M79 473h1M83 473h2M107 473h4M330 473h1M335 473h1M338 473h1M374 473h2M396 473h1M76 474h1M82 474h1M109 474h2M113 474h1M342 474h1M366 474h1M371 474h1M382 474h2M74 475h1M77 475h1M82 475h2M85 475h1M106 475h2M127 475h1M138 475h1M341 475h1M343 475h1M376 475h1M386 475h1M79 476h1M81 476h4M110 476h2M337 476h1M343 476h1M345 476h1M367 476h2M377 476h1M76 477h1M85 477h1M87 477h1M105 477h2M109 477h2M333 477h1M366 477h1M81 478h1M106 478h1M109 478h1M341 478h1M370 478h1M83 479h1M87 479h1M107 479h1M109 479h1M328 479h1M333 479h2M346 479h2M363 479h2M78 480h2M105 480h1M340 480h1M342 480h1M344 480h1M347 480h1M365 480h1"/><path stroke="#fa0404" d="M184 111h1M443 125h1M426 135h1M415 137h1M369 144h1M377 144h1M419 144h1M387 145h2M371 146h1M376 146h1M378 146h1M380 146h2M384 146h1M368 147h1M371 147h1M373 147h2M378 147h1M383 147h3M388 147h1M130 148h1M361 148h1M368 148h1M373 148h1M377 148h2M383 148h1M386 148h3M365 149h1M370 149h17M393 149h1M365 150h1M368 150h18M387 150h1M392 150h1M136 151h1M353 151h1M364 151h24M391 151h1M410 151h1M122 152h2M130 152h1M361 152h1M364 152h25M392 152h1M112 153h1M130 153h1M360 153h1M364 153h26M391 153h2M115 154h1M135 154h1M140 154h1M360 154h1M363 154h28M109 155h1M120 155h1M122 155h1M131 155h1M138 155h1M358 155h1M361 155h31M119 156h1M121 156h2M126 156h1M131 156h2M137 156h1M141 156h2M357 156h1M359 156h36M111 157h3M116 157h1M119 157h4M125 157h6M132 157h1M134 157h1M355 157h1M359 157h34M401 157h1M110 158h1M114 158h1M117 158h2M120 158h13M135 158h1M353 158h2M356 158h2M359 158h34M395 158h1M111 159h1M113 159h22M138 159h1M357 159h37M108 160h3M112 160h24M137 160h2M352 160h1M356 160h38M396 160h1M101 161h1M109 161h28M354 161h1M356 161h40M108 162h29M353 162h1M355 162h39M395 162h2M105 163h1M107 163h30M140 163h1M353 163h1M355 163h40M102 164h1M104 164h35M345 164h1M352 164h2M355 164h41M103 165h35M351 165h2M355 165h39M395 165h1M102 166h34M137 166h1M354 166h42M397 166h1M93 167h1M97 167h1M100 167h37M140 167h1M352 167h1M354 167h41M96 168h1M99 168h39M348 168h1M353 168h41M396 168h1M99 169h37M137 169h2M354 169h41M397 169h1M97 170h1M99 170h39M350 170h1M354 170h40M395 170h1M97 171h40M354 171h40M395 171h1M98 172h38M141 172h2M353 172h40M395 172h1M97 173h39M137 173h1M140 173h1M352 173h1M354 173h39M394 173h1M96 174h41M352 174h40M395 174h1M91 175h1M93 175h1M95 175h40M353 175h39M393 175h1M93 176h1M95 176h41M143 176h1M349 176h1M352 176h39M397 176h1M89 177h1M94 177h41M354 177h37M93 178h1M95 178h41M353 178h38M94 179h40M136 179h1M210 179h6M350 179h1M352 179h1M354 179h36M391 179h2M394 179h1M93 180h41M205 180h1M208 180h9M354 180h36M392 180h1M94 181h39M205 181h12M349 181h1M353 181h36M463 181h1M465 181h11M477 181h1M94 182h41M204 182h12M354 182h36M463 182h14M92 183h1M94 183h39M135 183h1M204 183h12M354 183h35M464 183h13M92 184h40M134 184h2M203 184h13M354 184h36M463 184h14M92 185h2M95 185h37M203 185h14M354 185h34M389 185h1M391 185h1M463 185h12M94 186h37M132 186h1M134 186h1M205 186h10M355 186h32M464 186h11M92 187h2M95 187h35M132 187h1M135 187h1M205 187h10M355 187h31M464 187h11M94 188h1M96 188h33M134 188h1M204 188h11M354 188h33M388 188h1M464 188h10M92 189h1M95 189h32M129 189h1M205 189h8M356 189h29M465 189h9M93 190h34M129 190h2M205 190h9M350 190h1M353 190h1M355 190h31M465 190h7M93 191h1M95 191h1M97 191h30M205 191h8M352 191h1M356 191h28M385 191h3M465 191h8M93 192h1M96 192h31M128 192h1M130 192h1M206 192h6M355 192h28M467 192h5M96 193h31M128 193h1M206 193h6M357 193h26M466 193h5M95 194h1M97 194h30M358 194h23M383 194h2M388 194h1M95 195h32M358 195h24M93 196h1M98 196h26M132 196h1M351 196h1M358 196h24M91 197h1M96 197h2M99 197h24M124 197h1M355 197h1M359 197h24M94 198h1M97 198h26M358 198h23M383 198h2M95 199h1M97 199h1M99 199h23M358 199h1M360 199h21M97 200h1M99 200h23M359 200h21M382 200h1M99 201h22M123 201h1M358 201h1M361 201h19M383 201h1M99 202h22M122 202h1M125 202h1M358 202h2M361 202h18M381 202h1M97 203h2M100 203h23M356 203h1M358 203h1M360 203h20M388 203h1M100 204h22M125 204h1M358 204h1M360 204h19M97 205h1M99 205h1M101 205h19M358 205h1M361 205h17M379 205h2M98 206h1M100 206h20M361 206h17M102 207h18M121 207h2M359 207h2M362 207h14M100 208h20M133 208h1M358 208h1M361 208h16M378 208h2M99 209h1M102 209h16M359 209h20M96 210h1M103 210h15M124 210h1M361 210h17M435 389h1M391 421h1M354 422h1M363 422h1M374 423h1M390 423h1M113 424h1M125 424h1M361 424h1M382 424h1M100 425h1M107 425h1M109 425h1M123 425h1M375 425h1M382 425h1M105 426h1M109 426h1M112 426h1M121 426h1M367 426h1M379 426h1M387 426h1M103 427h1M107 427h2M115 427h2M352 427h1M360 427h2M365 427h1M368 427h2M375 427h1M379 427h1M381 427h2M105 428h12M118 428h1M121 428h1M359 428h5M365 428h10M376 428h4M381 428h1M383 428h1M94 429h1M102 429h1M105 429h16M122 429h1M127 429h1M338 429h1M352 429h1M357 429h2M360 429h21M100 430h1M103 430h19M348 430h1M357 430h24M382 430h1M385 430h1M94 431h1M99 431h24M124 431h1M341 431h1M347 431h2M352 431h30M383 431h1M81 432h1M86 432h1M96 432h26M124 432h1M339 432h1M347 432h35M385 432h1M389 432h1M86 433h1M90 433h1M93 433h1M96 433h27M344 433h1M346 433h34M381 433h2M85 434h1M90 434h1M92 434h30M123 434h1M339 434h1M343 434h42M82 435h1M88 435h1M90 435h33M128 435h1M332 435h1M340 435h42M81 436h1M83 436h1M87 436h35M335 436h3M339 436h43M383 436h2M386 436h1M85 437h37M124 437h1M333 437h1M335 437h46M78 438h1M83 438h40M125 438h1M335 438h45M387 438h1M75 439h1M80 439h42M332 439h1M334 439h46M76 440h2M79 440h43M124 440h1M328 440h1M333 440h49M71 441h1M78 441h43M122 441h3M333 441h47M381 441h1M72 442h2M77 442h44M132 442h1M333 442h49M74 443h1M76 443h45M123 443h1M331 443h50M382 443h1M74 444h46M121 444h1M328 444h1M331 444h48M382 444h1M70 445h1M75 445h46M329 445h50M380 445h1M72 446h2M75 446h44M125 446h1M332 446h47M75 447h45M330 447h1M333 447h45M379 447h1M73 448h46M120 448h2M124 448h1M211 448h3M215 448h2M333 448h45M73 449h1M76 449h42M119 449h1M209 449h6M333 449h44M378 449h1M381 449h1M469 449h2M472 449h2M72 450h1M75 450h45M206 450h10M329 450h1M332 450h46M379 450h1M381 450h1M465 450h2M468 450h6M71 451h1M75 451h43M204 451h12M334 451h42M461 451h1M463 451h10M72 452h1M76 452h43M202 452h14M331 452h2M334 452h41M376 452h1M459 452h14M74 453h42M118 453h2M203 453h13M330 453h1M334 453h41M376 453h1M380 453h1M460 453h12M72 454h1M76 454h40M117 454h1M201 454h1M203 454h13M333 454h42M459 454h13M76 455h41M201 455h13M332 455h43M459 455h12M72 456h1M75 456h1M77 456h38M201 456h14M334 456h2M337 456h37M459 456h12M75 457h1M77 457h37M115 457h1M201 457h12M335 457h1M337 457h37M377 457h1M459 457h11M74 458h41M117 458h1M119 458h1M202 458h12M337 458h38M460 458h10M75 459h2M78 459h35M115 459h1M202 459h11M335 459h1M337 459h37M461 459h8M74 460h1M78 460h36M202 460h10M213 460h1M337 460h36M460 460h8M74 461h1M76 461h1M79 461h34M114 461h1M203 461h8M337 461h35M460 461h6M77 462h1M80 462h33M203 462h7M334 462h1M340 462h31M373 462h2M461 462h6M77 463h2M81 463h32M204 463h5M338 463h1M340 463h32M462 463h5M73 464h1M81 464h29M204 464h5M342 464h28M462 464h3M79 465h1M81 465h30M205 465h3M337 465h1M341 465h28M462 465h3M79 466h33M113 466h1M342 466h26M369 466h2M78 467h1M81 467h1M83 467h28M341 467h2M344 467h25M371 467h1M373 467h1M83 468h26M110 468h1M113 468h1M342 468h28M83 469h27M344 469h24M373 469h1M84 470h24M337 470h1M344 470h1M346 470h24M387 470h1M84 471h23M342 471h2M345 471h22M83 472h2M86 472h22M340 472h1M346 472h22M85 473h22M114 473h1M344 473h23M368 473h1M84 474h24M344 474h1M346 474h20M367 474h2M86 475h18M105 475h1M346 475h20M369 475h1M85 476h2M88 476h19M340 476h1M342 476h1M347 476h19M81 477h1M86 477h1M88 477h17M347 477h19M86 478h1M88 478h17M344 478h1M346 478h19M366 478h1M369 478h1M82 479h1M88 479h16M345 479h1M348 479h15M84 480h1M87 480h1M89 480h16M108 480h1M348 480h17"/></g><path d="M64.5 199.0H68M64.5 191.4H68M64.5 186.0H68M64.5 181.8H68M64.5 178.3H68M64.5 175.4H68M64.5 172.9H68M64.5 170.7H68M61.5 168.8H68M64.5 155.7H68M64.5 148.1H68M64.5 142.7H68M64.5 138.5H68M64.5 135.1H68M64.5 132.2H68M64.5 129.7H68M64.5 127.5H68M61.5 125.5H68M64.5 112.5H68M64.5 104.9H68M64.5 99.5H68M64.5 95.3H68M64.5 91.8H68M64.5 88.9H68M64.5 86.4H68M64.5 84.2H68M61.5 82.2H68M64.5 69.2H68M64.5 61.6H68M64.5 56.2H68M64.5 52.0H68M64.5 48.6H68M64.5 45.7H68M64.5 43.2H68M64.5 41.0H68M61.5 39.0H68M82.6 212V215.0M91.1 212V215.0M97.2 212V215.0M101.9 212V215.0M105.7 212V215.0M109.0 212V215.0M111.8 212V215.0M114.3 212V215.0M116.5 212V217.5M131.1 212V215.0M139.6 212V215.0M145.7 212V215.0M150.4 212V215.0M154.2 212V215.0M157.5 212V215.0M160.3 212V215.0M162.8 212V215.0M165.0 212V217.5M179.6 212V215.0M188.1 212V215.0M194.2 212V215.0M198.9 212V215.0M202.7 212V215.0M206.0 212V215.0M208.8 212V215.0M211.3 212V215.0M213.5 212V217.5M228.1 212V215.0M236.6 212V215.0M242.7 212V215.0M247.4 212V215.0M251.2 212V215.0M254.5 212V215.0M257.3 212V215.0M259.8 212V215.0M262.0 212V217.5" stroke="#8c8c8c" stroke-width="0.9" fill="none"/><g style="font-family:'Liberation Serif',serif;font-weight:bold;font-size:8.5px" fill="#1a1a1a" stroke="#1a1a1a" stroke-width="0.3"><text x="48.4" y="172.4" textLength="7.2" lengthAdjust="spacingAndGlyphs">10</text><text x="56.4" y="168.2" font-size="5">0</text><text x="48.4" y="129.2" textLength="7.2" lengthAdjust="spacingAndGlyphs">10</text><text x="56.4" y="124.9" font-size="5">1</text><text x="48.4" y="86.0" textLength="7.2" lengthAdjust="spacingAndGlyphs">10</text><text x="56.4" y="81.7" font-size="5">2</text><text x="48.4" y="42.7" textLength="7.2" lengthAdjust="spacingAndGlyphs">10</text><text x="56.4" y="38.4" font-size="5">3</text><text x="112.7" y="226.4" textLength="8" lengthAdjust="spacingAndGlyphs">10</text><text x="121.1" y="222.2" font-size="5">0</text><text x="161.2" y="226.4" textLength="8" lengthAdjust="spacingAndGlyphs">10</text><text x="169.6" y="222.2" font-size="5">1</text><text x="209.7" y="226.4" textLength="8" lengthAdjust="spacingAndGlyphs">10</text><text x="218.1" y="222.2" font-size="5">2</text><text x="258.2" y="226.4" textLength="8" lengthAdjust="spacingAndGlyphs">10</text><text x="266.6" y="222.2" font-size="5">3</text></g><rect x="68" y="39" width="194" height="173" fill="none" stroke="#8c8c8c" stroke-width="1.6"/><path d="M323.5 199.0H327M323.5 191.4H327M323.5 186.0H327M323.5 181.8H327M323.5 178.3H327M323.5 175.4H327M323.5 172.9H327M323.5 170.7H327M320.5 168.8H327M323.5 155.7H327M323.5 148.1H327M323.5 142.7H327M323.5 138.5H327M323.5 135.1H327M323.5 132.2H327M323.5 129.7H327M323.5 127.5H327M320.5 125.5H327M323.5 112.5H327M323.5 104.9H327M323.5 99.5H327M323.5 95.3H327M323.5 91.8H327M323.5 88.9H327M323.5 86.4H327M323.5 84.2H327M320.5 82.2H327M323.5 69.2H327M323.5 61.6H327M323.5 56.2H327M323.5 52.0H327M323.5 48.6H327M323.5 45.7H327M323.5 43.2H327M323.5 41.0H327M320.5 39.0H327M341.5 212V215.0M350.0 212V215.0M356.0 212V215.0M360.7 212V215.0M364.5 212V215.0M367.8 212V215.0M370.6 212V215.0M373.0 212V215.0M375.2 212V217.5M389.8 212V215.0M398.3 212V215.0M404.3 212V215.0M409.0 212V215.0M412.8 212V215.0M416.0 212V215.0M418.8 212V215.0M421.3 212V215.0M423.5 212V217.5M438.0 212V215.0M446.5 212V215.0M452.5 212V215.0M457.2 212V215.0M461.0 212V215.0M464.3 212V215.0M467.1 212V215.0M469.5 212V215.0M471.8 212V217.5M486.3 212V215.0M494.8 212V215.0M500.8 212V215.0M505.5 212V215.0M509.3 212V215.0M512.5 212V215.0M515.3 212V215.0M517.8 212V215.0M520.0 212V217.5" stroke="#8c8c8c" stroke-width="0.9" fill="none"/><g style="font-family:'Liberation Serif',serif;font-weight:bold;font-size:8.5px" fill="#1a1a1a" stroke="#1a1a1a" stroke-width="0.3"><text x="307.4" y="172.4" textLength="7.2" lengthAdjust="spacingAndGlyphs">10</text><text x="315.4" y="168.2" font-size="5">0</text><text x="307.4" y="129.2" textLength="7.2" lengthAdjust="spacingAndGlyphs">10</text><text x="315.4" y="124.9" font-size="5">1</text><text x="307.4" y="86.0" textLength="7.2" lengthAdjust="spacingAndGlyphs">10</text><text x="315.4" y="81.7" font-size="5">2</text><text x="307.4" y="42.7" textLength="7.2" lengthAdjust="spacingAndGlyphs">10</text><text x="315.4" y="38.4" font-size="5">3</text><text x="371.4" y="226.4" textLength="8" lengthAdjust="spacingAndGlyphs">10</text><text x="379.9" y="222.2" font-size="5">0</text><text x="419.7" y="226.4" textLength="8" lengthAdjust="spacingAndGlyphs">10</text><text x="428.1" y="222.2" font-size="5">1</text><text x="467.9" y="226.4" textLength="8" lengthAdjust="spacingAndGlyphs">10</text><text x="476.4" y="222.2" font-size="5">2</text><text x="516.2" y="226.4" textLength="8" lengthAdjust="spacingAndGlyphs">10</text><text x="524.6" y="222.2" font-size="5">3</text></g><rect x="327" y="39" width="193" height="173" fill="none" stroke="#8c8c8c" stroke-width="1.6"/><path d="M580.5 199.0H584M580.5 191.4H584M580.5 186.0H584M580.5 181.8H584M580.5 178.3H584M580.5 175.4H584M580.5 172.9H584M580.5 170.7H584M577.5 168.8H584M580.5 155.7H584M580.5 148.1H584M580.5 142.7H584M580.5 138.5H584M580.5 135.1H584M580.5 132.2H584M580.5 129.7H584M580.5 127.5H584M577.5 125.5H584M580.5 112.5H584M580.5 104.9H584M580.5 99.5H584M580.5 95.3H584M580.5 91.8H584M580.5 88.9H584M580.5 86.4H584M580.5 84.2H584M577.5 82.2H584M580.5 69.2H584M580.5 61.6H584M580.5 56.2H584M580.5 52.0H584M580.5 48.6H584M580.5 45.7H584M580.5 43.2H584M580.5 41.0H584M577.5 39.0H584M598.6 212V215.0M607.1 212V215.0M613.2 212V215.0M617.9 212V215.0M621.7 212V215.0M625.0 212V215.0M627.8 212V215.0M630.3 212V215.0M632.5 212V217.5M647.1 212V215.0M655.6 212V215.0M661.7 212V215.0M666.4 212V215.0M670.2 212V215.0M673.5 212V215.0M676.3 212V215.0M678.8 212V215.0M681.0 212V217.5M695.6 212V215.0M704.1 212V215.0M710.2 212V215.0M714.9 212V215.0M718.7 212V215.0M722.0 212V215.0M724.8 212V215.0M727.3 212V215.0M729.5 212V217.5M744.1 212V215.0M752.6 212V215.0M758.7 212V215.0M763.4 212V215.0M767.2 212V215.0M770.5 212V215.0M773.3 212V215.0M775.8 212V215.0M778.0 212V217.5" stroke="#8c8c8c" stroke-width="0.9" fill="none"/><g style="font-family:'Liberation Serif',serif;font-weight:bold;font-size:8.5px" fill="#1a1a1a" stroke="#1a1a1a" stroke-width="0.3"><text x="564.4" y="172.4" textLength="7.2" lengthAdjust="spacingAndGlyphs">10</text><text x="572.4" y="168.2" font-size="5">0</text><text x="564.4" y="129.2" textLength="7.2" lengthAdjust="spacingAndGlyphs">10</text><text x="572.4" y="124.9" font-size="5">1</text><text x="564.4" y="86.0" textLength="7.2" lengthAdjust="spacingAndGlyphs">10</text><text x="572.4" y="81.7" font-size="5">2</text><text x="564.4" y="42.7" textLength="7.2" lengthAdjust="spacingAndGlyphs">10</text><text x="572.4" y="38.4" font-size="5">3</text><text x="628.7" y="226.4" textLength="8" lengthAdjust="spacingAndGlyphs">10</text><text x="637.1" y="222.2" font-size="5">0</text><text x="677.2" y="226.4" textLength="8" lengthAdjust="spacingAndGlyphs">10</text><text x="685.6" y="222.2" font-size="5">1</text><text x="725.7" y="226.4" textLength="8" lengthAdjust="spacingAndGlyphs">10</text><text x="734.1" y="222.2" font-size="5">2</text><text x="774.2" y="226.4" textLength="8" lengthAdjust="spacingAndGlyphs">10</text><text x="782.6" y="222.2" font-size="5">3</text></g><rect x="584" y="39" width="194" height="173" fill="none" stroke="#8c8c8c" stroke-width="1.6"/><path d="M64.5 469.5H68M64.5 461.9H68M64.5 456.5H68M64.5 452.4H68M64.5 448.9H68M64.5 446.1H68M64.5 443.6H68M64.5 441.3H68M61.5 439.4H68M64.5 426.4H68M64.5 418.8H68M64.5 413.4H68M64.5 409.2H68M64.5 405.8H68M64.5 402.9H68M64.5 400.4H68M64.5 398.2H68M61.5 396.2H68M64.5 383.3H68M64.5 375.7H68M64.5 370.3H68M64.5 366.1H68M64.5 362.7H68M64.5 359.8H68M64.5 357.3H68M64.5 355.1H68M61.5 353.1H68M64.5 340.1H68M64.5 332.5H68M64.5 327.2H68M64.5 323.0H68M64.5 319.6H68M64.5 316.7H68M64.5 314.2H68M64.5 312.0H68M61.5 310.0H68M82.6 482.5V485.5M91.1 482.5V485.5M97.2 482.5V485.5M101.9 482.5V485.5M105.7 482.5V485.5M109.0 482.5V485.5M111.8 482.5V485.5M114.3 482.5V485.5M116.5 482.5V488.0M131.1 482.5V485.5M139.6 482.5V485.5M145.7 482.5V485.5M150.4 482.5V485.5M154.2 482.5V485.5M157.5 482.5V485.5M160.3 482.5V485.5M162.8 482.5V485.5M165.0 482.5V488.0M179.6 482.5V485.5M188.1 482.5V485.5M194.2 482.5V485.5M198.9 482.5V485.5M202.7 482.5V485.5M206.0 482.5V485.5M208.8 482.5V485.5M211.3 482.5V485.5M213.5 482.5V488.0M228.1 482.5V485.5M236.6 482.5V485.5M242.7 482.5V485.5M247.4 482.5V485.5M251.2 482.5V485.5M254.5 482.5V485.5M257.3 482.5V485.5M259.8 482.5V485.5M262.0 482.5V488.0" stroke="#8c8c8c" stroke-width="0.9" fill="none"/><g style="font-family:'Liberation Serif',serif;font-weight:bold;font-size:8.5px" fill="#1a1a1a" stroke="#1a1a1a" stroke-width="0.3"><text x="48.4" y="443.1" textLength="7.2" lengthAdjust="spacingAndGlyphs">10</text><text x="56.4" y="438.8" font-size="5">0</text><text x="48.4" y="399.9" textLength="7.2" lengthAdjust="spacingAndGlyphs">10</text><text x="56.4" y="395.6" font-size="5">1</text><text x="48.4" y="356.8" textLength="7.2" lengthAdjust="spacingAndGlyphs">10</text><text x="56.4" y="352.5" font-size="5">2</text><text x="48.4" y="313.7" textLength="7.2" lengthAdjust="spacingAndGlyphs">10</text><text x="56.4" y="309.4" font-size="5">3</text><text x="112.7" y="496.9" textLength="8" lengthAdjust="spacingAndGlyphs">10</text><text x="121.1" y="492.7" font-size="5">0</text><text x="161.2" y="496.9" textLength="8" lengthAdjust="spacingAndGlyphs">10</text><text x="169.6" y="492.7" font-size="5">1</text><text x="209.7" y="496.9" textLength="8" lengthAdjust="spacingAndGlyphs">10</text><text x="218.1" y="492.7" font-size="5">2</text><text x="258.2" y="496.9" textLength="8" lengthAdjust="spacingAndGlyphs">10</text><text x="266.6" y="492.7" font-size="5">3</text></g><rect x="68" y="310" width="194" height="172.5" fill="none" stroke="#8c8c8c" stroke-width="1.6"/><path d="M323.5 469.5H327M323.5 461.9H327M323.5 456.5H327M323.5 452.4H327M323.5 448.9H327M323.5 446.1H327M323.5 443.6H327M323.5 441.3H327M320.5 439.4H327M323.5 426.4H327M323.5 418.8H327M323.5 413.4H327M323.5 409.2H327M323.5 405.8H327M323.5 402.9H327M323.5 400.4H327M323.5 398.2H327M320.5 396.2H327M323.5 383.3H327M323.5 375.7H327M323.5 370.3H327M323.5 366.1H327M323.5 362.7H327M323.5 359.8H327M323.5 357.3H327M323.5 355.1H327M320.5 353.1H327M323.5 340.1H327M323.5 332.5H327M323.5 327.2H327M323.5 323.0H327M323.5 319.6H327M323.5 316.7H327M323.5 314.2H327M323.5 312.0H327M320.5 310.0H327M341.5 482.5V485.5M350.0 482.5V485.5M356.0 482.5V485.5M360.7 482.5V485.5M364.5 482.5V485.5M367.8 482.5V485.5M370.6 482.5V485.5M373.0 482.5V485.5M375.2 482.5V488.0M389.8 482.5V485.5M398.3 482.5V485.5M404.3 482.5V485.5M409.0 482.5V485.5M412.8 482.5V485.5M416.0 482.5V485.5M418.8 482.5V485.5M421.3 482.5V485.5M423.5 482.5V488.0M438.0 482.5V485.5M446.5 482.5V485.5M452.5 482.5V485.5M457.2 482.5V485.5M461.0 482.5V485.5M464.3 482.5V485.5M467.1 482.5V485.5M469.5 482.5V485.5M471.8 482.5V488.0M486.3 482.5V485.5M494.8 482.5V485.5M500.8 482.5V485.5M505.5 482.5V485.5M509.3 482.5V485.5M512.5 482.5V485.5M515.3 482.5V485.5M517.8 482.5V485.5M520.0 482.5V488.0" stroke="#8c8c8c" stroke-width="0.9" fill="none"/><g style="font-family:'Liberation Serif',serif;font-weight:bold;font-size:8.5px" fill="#1a1a1a" stroke="#1a1a1a" stroke-width="0.3"><text x="307.4" y="443.1" textLength="7.2" lengthAdjust="spacingAndGlyphs">10</text><text x="315.4" y="438.8" font-size="5">0</text><text x="307.4" y="399.9" textLength="7.2" lengthAdjust="spacingAndGlyphs">10</text><text x="315.4" y="395.6" font-size="5">1</text><text x="307.4" y="356.8" textLength="7.2" lengthAdjust="spacingAndGlyphs">10</text><text x="315.4" y="352.5" font-size="5">2</text><text x="307.4" y="313.7" textLength="7.2" lengthAdjust="spacingAndGlyphs">10</text><text x="315.4" y="309.4" font-size="5">3</text><text x="371.4" y="496.9" textLength="8" lengthAdjust="spacingAndGlyphs">10</text><text x="379.9" y="492.7" font-size="5">0</text><text x="419.7" y="496.9" textLength="8" lengthAdjust="spacingAndGlyphs">10</text><text x="428.1" y="492.7" font-size="5">1</text><text x="467.9" y="496.9" textLength="8" lengthAdjust="spacingAndGlyphs">10</text><text x="476.4" y="492.7" font-size="5">2</text><text x="516.2" y="496.9" textLength="8" lengthAdjust="spacingAndGlyphs">10</text><text x="524.6" y="492.7" font-size="5">3</text></g><rect x="327" y="310" width="193" height="172.5" fill="none" stroke="#8c8c8c" stroke-width="1.6"/><path d="M580.5 469.5H584M580.5 461.9H584M580.5 456.5H584M580.5 452.4H584M580.5 448.9H584M580.5 446.1H584M580.5 443.6H584M580.5 441.3H584M577.5 439.4H584M580.5 426.4H584M580.5 418.8H584M580.5 413.4H584M580.5 409.2H584M580.5 405.8H584M580.5 402.9H584M580.5 400.4H584M580.5 398.2H584M577.5 396.2H584M580.5 383.3H584M580.5 375.7H584M580.5 370.3H584M580.5 366.1H584M580.5 362.7H584M580.5 359.8H584M580.5 357.3H584M580.5 355.1H584M577.5 353.1H584M580.5 340.1H584M580.5 332.5H584M580.5 327.2H584M580.5 323.0H584M580.5 319.6H584M580.5 316.7H584M580.5 314.2H584M580.5 312.0H584M577.5 310.0H584M598.6 482.5V485.5M607.1 482.5V485.5M613.2 482.5V485.5M617.9 482.5V485.5M621.7 482.5V485.5M625.0 482.5V485.5M627.8 482.5V485.5M630.3 482.5V485.5M632.5 482.5V488.0M647.1 482.5V485.5M655.6 482.5V485.5M661.7 482.5V485.5M666.4 482.5V485.5M670.2 482.5V485.5M673.5 482.5V485.5M676.3 482.5V485.5M678.8 482.5V485.5M681.0 482.5V488.0M695.6 482.5V485.5M704.1 482.5V485.5M710.2 482.5V485.5M714.9 482.5V485.5M718.7 482.5V485.5M722.0 482.5V485.5M724.8 482.5V485.5M727.3 482.5V485.5M729.5 482.5V488.0M744.1 482.5V485.5M752.6 482.5V485.5M758.7 482.5V485.5M763.4 482.5V485.5M767.2 482.5V485.5M770.5 482.5V485.5M773.3 482.5V485.5M775.8 482.5V485.5M778.0 482.5V488.0" stroke="#8c8c8c" stroke-width="0.9" fill="none"/><g style="font-family:'Liberation Serif',serif;font-weight:bold;font-size:8.5px" fill="#1a1a1a" stroke="#1a1a1a" stroke-width="0.3"><text x="564.4" y="443.1" textLength="7.2" lengthAdjust="spacingAndGlyphs">10</text><text x="572.4" y="438.8" font-size="5">0</text><text x="564.4" y="399.9" textLength="7.2" lengthAdjust="spacingAndGlyphs">10</text><text x="572.4" y="395.6" font-size="5">1</text><text x="564.4" y="356.8" textLength="7.2" lengthAdjust="spacingAndGlyphs">10</text><text x="572.4" y="352.5" font-size="5">2</text><text x="564.4" y="313.7" textLength="7.2" lengthAdjust="spacingAndGlyphs">10</text><text x="572.4" y="309.4" font-size="5">3</text><text x="628.7" y="496.9" textLength="8" lengthAdjust="spacingAndGlyphs">10</text><text x="637.1" y="492.7" font-size="5">0</text><text x="677.2" y="496.9" textLength="8" lengthAdjust="spacingAndGlyphs">10</text><text x="685.6" y="492.7" font-size="5">1</text><text x="725.7" y="496.9" textLength="8" lengthAdjust="spacingAndGlyphs">10</text><text x="734.1" y="492.7" font-size="5">2</text><text x="774.2" y="496.9" textLength="8" lengthAdjust="spacingAndGlyphs">10</text><text x="782.6" y="492.7" font-size="5">3</text></g><rect x="584" y="310" width="194" height="172.5" fill="none" stroke="#8c8c8c" stroke-width="1.6"/><path d="M68 163.3C70.7 162.4 79.3 160.2 84 158C88.7 155.8 92.3 152.5 96 150C99.7 147.5 102.7 145.3 106 143C109.3 140.7 112.7 138.7 116 136C119.3 133.3 122.7 130.2 126 127C129.3 123.8 132.8 120.1 136 117C139.2 113.9 137.7 115.0 145 108.5C152.3 102.0 170.8 86.2 180 78C189.2 69.8 193.6 65.4 200 59C206.4 52.6 215.4 42.8 218.5 39.5" stroke="#5a5a5a" stroke-width="1.2" fill="none"/><path d="M327 166.7C330.2 164.8 339.5 159.0 346.25 155C353.0 151.0 361.5 145.8 367.5 142.5C373.5 139.2 377.8 138.2 382.4 135C387.0 131.8 389.7 128.4 395 123.4C400.3 118.4 407.5 111.4 414.25 105C421.0 98.6 428.4 91.9 435.5 85C442.6 78.1 448.8 71.1 456.75 63.5C464.7 55.9 478.9 43.5 483.3 39.5" stroke="#5a5a5a" stroke-width="1.2" fill="none"/><path d="M68 434.8C71.2 433.5 81.9 430.0 87.25 427.1C92.6 424.2 95.0 421.4 100 417.5C105.0 413.6 109.2 410.7 117.5 404C125.8 397.3 137.9 388.2 150 377.5C162.1 366.8 178.5 351.2 190 340C201.5 328.8 214.2 315.4 219 310.5" stroke="#5a5a5a" stroke-width="1.2" fill="none"/><path d="M327 437C330.5 435.2 338.7 431.8 348 426.5C357.3 421.2 373.1 412.3 383 405C392.9 397.7 399.0 390.2 407.5 382.75C416.0 375.2 421.1 372.0 433.75 360C446.4 348.0 475.0 318.8 483.3 310.5" stroke="#5a5a5a" stroke-width="1.2" fill="none"/><path d="M650 40V212" stroke="#999" stroke-width="1.6" stroke-dasharray="11.5 5" fill="none"/><path d="M584 150.6H776" stroke="#999" stroke-width="1.6" stroke-dasharray="12 4.3" fill="none"/><path d="M645.5 46H654M772 146.6V154.6M770 148.1H774" stroke="#555" stroke-width="1.2" fill="none"/><path d="M649.8 311V482.5" stroke="#999" stroke-width="1.6" stroke-dasharray="11.5 5" fill="none"/><path d="M584 421.8H776" stroke="#999" stroke-width="1.6" stroke-dasharray="12 4.3" fill="none"/><path d="M645.3 317H653.8M772 417.8V425.8M770 419.3H774" stroke="#555" stroke-width="1.2" fill="none"/><path d="M194.8 157.1H197M194.8 169.9H197M194.8 182.8H197M211.4 195.6V197.8M225.8 195.6V197.8M240.2 195.6V197.8M254.3 195.6V197.8" stroke="#999" stroke-width="0.7" fill="none"/><rect x="197" y="144.3" width="57.599999999999994" height="51.29999999999998" fill="none" stroke="#b0b0b0" stroke-width="0.8"/><path d="M197 181.6C205 177.6 211 174.6 217 166.6S227 152.3 232 146.3" stroke="#e8c8d0" stroke-width="0.9" fill="none"/><path d="M453.0 157.1H455.2M453.0 169.9H455.2M453.0 182.8H455.2M469.9 195.6V197.8M484.6 195.6V197.8M499.3 195.6V197.8M513.7 195.6V197.8" stroke="#999" stroke-width="0.7" fill="none"/><rect x="455.2" y="144.3" width="58.80000000000001" height="51.29999999999998" fill="none" stroke="#b0b0b0" stroke-width="0.8"/><path d="M455.2 181.6C463.2 177.6 469.2 174.6 475.2 166.6S485.2 152.3 490.2 146.3" stroke="#e8c8d0" stroke-width="0.9" fill="none"/><path d="M195.7 427.6H197.9M195.7 440.6H197.9M195.7 453.7H197.9M212.1 466.8V469.0M226.2 466.8V469.0M240.4 466.8V469.0M254.3 466.8V469.0" stroke="#999" stroke-width="0.7" fill="none"/><rect x="197.9" y="414.5" width="56.69999999999999" height="52.30000000000001" fill="none" stroke="#b0b0b0" stroke-width="0.8"/><path d="M197.9 452.8C205.9 448.8 211.9 445.8 217.9 437.8S227.9 422.5 232.9 416.5" stroke="#e8c8d0" stroke-width="0.9" fill="none"/><path d="M453.0 427.2H455.2M453.0 440.4H455.2M453.0 453.7H455.2M469.4 466.9V469.1M483.6 466.9V469.1M497.8 466.9V469.1M511.7 466.9V469.1" stroke="#999" stroke-width="0.7" fill="none"/><rect x="455.2" y="414" width="56.80000000000001" height="52.89999999999998" fill="none" stroke="#b0b0b0" stroke-width="0.8"/><path d="M455.2 452.9C463.2 448.9 469.2 445.9 475.2 437.9S485.2 422 490.2 416" stroke="#e8c8d0" stroke-width="0.9" fill="none"/><g style="font-family:'Liberation Serif',serif;font-weight:bold" stroke="#111" stroke-width="0.45"><text x="20" y="30.5" font-size="19" text-anchor="start" fill="#111" >A</text><text x="287" y="30.5" font-size="19" text-anchor="start" fill="#111" >B</text><text x="535" y="30.4" font-size="19" text-anchor="start" fill="#111" >C</text><text x="20" y="304.8" font-size="19" text-anchor="start" fill="#111" >D</text><text x="287" y="304.8" font-size="19" text-anchor="start" fill="#111" >E</text><text x="535" y="304.5" font-size="19" text-anchor="start" fill="#111" >F</text><text x="72.4" y="57.2" font-size="16.5" text-anchor="start" fill="#111" textLength="106.2" lengthAdjust="spacingAndGlyphs" >R1= 3.8 ±0.4%</text><text x="329.9" y="57.2" font-size="16.5" text-anchor="start" fill="#111" textLength="106.9" lengthAdjust="spacingAndGlyphs" >R2= 3.7 ±0.4%</text><text x="692.9" y="57.5" font-size="16.5" text-anchor="start" fill="#111" textLength="79.2" lengthAdjust="spacingAndGlyphs" >*3.7 ±0.4%</text><text x="609.3" y="31" font-size="20" text-anchor="start" fill="#111" textLength="144" lengthAdjust="spacingAndGlyphs" >Gated R1 and R2</text><text x="72.4" y="327.2" font-size="16.5" text-anchor="start" fill="#111" textLength="103.9" lengthAdjust="spacingAndGlyphs" >R1= 0.9±0.5%</text><text x="330.7" y="326.8" font-size="16.5" text-anchor="start" fill="#111" textLength="102.4" lengthAdjust="spacingAndGlyphs" >R2= 0.8±0.5%</text><text x="608.3" y="305.4" font-size="20" text-anchor="start" fill="#111" textLength="145" lengthAdjust="spacingAndGlyphs" >Gated R1 and R2</text><text x="702.2" y="327.5" font-size="16.5" text-anchor="start" fill="#111" textLength="67.3" lengthAdjust="spacingAndGlyphs" >0.8±0.5%</text><text x="162.2" y="259.2" font-size="19.5" text-anchor="middle" fill="#111" textLength="39" lengthAdjust="spacingAndGlyphs" >FL-1</text><text x="421.7" y="259.4" font-size="19.5" text-anchor="middle" fill="#111" textLength="40.2" lengthAdjust="spacingAndGlyphs" >FL-1</text><text x="680.2" y="259.6" font-size="19.5" text-anchor="middle" fill="#111" textLength="45.6" lengthAdjust="spacingAndGlyphs" >CD45</text><text x="161.3" y="529.3" font-size="19.5" text-anchor="middle" fill="#111" textLength="40.6" lengthAdjust="spacingAndGlyphs" >FL-1</text><text x="421.8" y="529.4" font-size="19.5" text-anchor="middle" fill="#111" textLength="40.4" lengthAdjust="spacingAndGlyphs" >FL-1</text><text x="680.2" y="529.6" font-size="19.5" text-anchor="middle" fill="#111" textLength="45.6" lengthAdjust="spacingAndGlyphs" >CD45</text></g><g style="font-family:'Liberation Serif',serif;font-weight:bold" stroke="#111" stroke-width="0.45"><text transform="translate(33.5,126.6) rotate(-90)" x="0" y="0" font-size="20" text-anchor="middle" fill="#111" textLength="47.4" lengthAdjust="spacingAndGlyphs">CD45</text><text transform="translate(300.9,127.25) rotate(-90)" x="0" y="0" font-size="20" text-anchor="middle" fill="#111" textLength="48.7" lengthAdjust="spacingAndGlyphs">CD38</text><text transform="translate(548.5,126.6) rotate(-90)" x="0" y="0" font-size="20" text-anchor="middle" fill="#111" textLength="47.4" lengthAdjust="spacingAndGlyphs">CD38</text><text transform="translate(32.5,396.25) rotate(-90)" x="0" y="0" font-size="20" text-anchor="middle" fill="#111" textLength="46.7" lengthAdjust="spacingAndGlyphs">CD45</text><text transform="translate(299.9,395.25) rotate(-90)" x="0" y="0" font-size="20" text-anchor="middle" fill="#111" textLength="47.3" lengthAdjust="spacingAndGlyphs">CD38</text><text transform="translate(547.2,394.9) rotate(-90)" x="0" y="0" font-size="20" text-anchor="middle" fill="#111" textLength="46.7" lengthAdjust="spacingAndGlyphs">CD38</text></g><g style="font-family:'Liberation Serif',serif;font-weight:bold" font-size="7.2" fill="#111" stroke="#111" stroke-width="0.25"><text x="199.3" y="150.9" textLength="29.5" lengthAdjust="spacingAndGlyphs">R1&lt;0.1%</text><text x="218" y="210.4" textLength="12.8" lengthAdjust="spacingAndGlyphs">FL-1</text><text transform="translate(185.4,169.4) rotate(-90)" text-anchor="middle" textLength="20" lengthAdjust="spacingAndGlyphs">CD45</text><text x="457.5" y="151.0" textLength="29.5" lengthAdjust="spacingAndGlyphs">R2&lt;0.1%</text><text x="478.0" y="210.4" textLength="12.8" lengthAdjust="spacingAndGlyphs">FL-1</text><text transform="translate(446.0,169.10000000000002) rotate(-90)" text-anchor="middle" textLength="20" lengthAdjust="spacingAndGlyphs">CD38</text><text x="200.20000000000002" y="422.8" textLength="29.5" lengthAdjust="spacingAndGlyphs">R1&lt;0.1%</text><text x="219.3" y="481.0" textLength="12.8" lengthAdjust="spacingAndGlyphs">FL-1</text><text transform="translate(187.6,440.9) rotate(-90)" text-anchor="middle" textLength="20" lengthAdjust="spacingAndGlyphs">CD45</text><text x="457.5" y="422.3" textLength="29.5" lengthAdjust="spacingAndGlyphs">R1&lt;0.1%</text><text x="476.59999999999997" y="481.09999999999997" textLength="12.8" lengthAdjust="spacingAndGlyphs">FL-1</text><text transform="translate(444.9,441.3) rotate(-90)" text-anchor="middle" textLength="20" lengthAdjust="spacingAndGlyphs">CD45</text></g><g style="font-family:'Liberation Serif',serif;font-weight:bold" stroke="#111" stroke-width="0.45"><text x="20.3" y="558.2" font-size="20" text-anchor="start" fill="#111" textLength="13.6" lengthAdjust="spacingAndGlyphs" >G</text></g><path d="M64.8 935V592M144.8 589.5V933.2M127.5 589.8H144.8M127.5 676.0H144.8M127.5 762.2H144.8M127.5 848.4H144.8M137.5 822.5H144.8M137.5 807.3H144.8M137.5 796.5H144.8M137.5 788.1H144.8M137.5 781.3H144.8M137.5 775.6H144.8M137.5 770.6H144.8M137.5 766.1H144.8M137.5 736.3H144.8M137.5 721.1H144.8M137.5 710.3H144.8M137.5 701.9H144.8M137.5 695.1H144.8M137.5 689.4H144.8M137.5 684.4H144.8M137.5 679.9H144.8M137.5 650.1H144.8M137.5 634.9H144.8M137.5 624.1H144.8M137.5 615.7H144.8M137.5 608.9H144.8M137.5 603.2H144.8M137.5 598.2H144.8M137.5 593.7H144.8M128 932.6H469.7M215.7 932.6V949.5M315.8 932.6V949.5M411.8 932.6V949.5" stroke="#111" stroke-width="1.6" fill="none"/><path d="M65 582.5L60.5 593.6H69.6Z" fill="#111"/><path d="M129 882.2C137 879 141 878.5 145 877.5S150 875.5 154.7 873.4M131 891C139 888 141 887.5 145 886.5S151 884.5 156.3 882.2" stroke="#1a1a1a" stroke-width="1.6" fill="none"/><g style="font-family:'Liberation Serif',serif;font-weight:bold" font-size="12.5" fill="#111" stroke="#111" stroke-width="0.3"><text x="110.3" y="595.0000000000001" font-size="16" text-anchor="end" fill="#111" >100</text><text x="110.3" y="681.2" font-size="16" text-anchor="end" fill="#111" >10</text><text x="110.3" y="767.4000000000001" font-size="16" text-anchor="end" fill="#111" >1</text><text x="110.3" y="853.6000000000001" font-size="16" text-anchor="end" fill="#111" >0.1</text><text x="110.3" y="937.2" font-size="16" text-anchor="end" fill="#111" >0</text><text x="209.6" y="973.2" font-size="16" text-anchor="middle" fill="#111" >0.5</text><text x="314" y="973.2" font-size="16" text-anchor="middle" fill="#111" >1</text><text x="408.6" y="973.2" font-size="16" text-anchor="middle" fill="#111" >5</text></g><g style="font-family:'Liberation Serif',serif;font-weight:bold" stroke="#111" stroke-width="0.45"><text transform="translate(36.8,750.5) rotate(-89.3)" font-size="18" text-anchor="middle" fill="#111" textLength="288" lengthAdjust="spacingAndGlyphs">Level of Engraftment (&#8202;% Human)</text></g><rect x="184.1" y="823.1" width="10.4" height="10.4" fill="none" stroke="#66000e" stroke-width="2.7"/><rect x="233.4" y="823.1" width="10.4" height="10.4" fill="none" stroke="#66000e" stroke-width="2.7"/><ellipse cx="204.3" cy="828.3" rx="5.3" ry="5.1" fill="none" stroke="#12147a" stroke-width="2.4"/><ellipse cx="222.0" cy="828.3" rx="5.3" ry="5.1" fill="none" stroke="#12147a" stroke-width="2.4"/><rect x="185.3" y="927.1" width="10.4" height="10.4" fill="none" stroke="#66000e" stroke-width="2.7"/><rect x="234.5" y="927.1" width="10.4" height="10.4" fill="none" stroke="#66000e" stroke-width="2.7"/><ellipse cx="205" cy="932.3" rx="5.3" ry="5.1" fill="none" stroke="#12147a" stroke-width="2.4"/><ellipse cx="223" cy="932.3" rx="5.3" ry="5.1" fill="none" stroke="#12147a" stroke-width="2.4"/><rect x="209.8" y="912.8" width="10.4" height="10.4" fill="none" stroke="#66000e" stroke-width="2.7"/><ellipse cx="307.3" cy="811.3" rx="5.3" ry="5.1" fill="none" stroke="#12147a" stroke-width="2.4"/><rect x="318.3" y="806.5" width="10.4" height="10.4" fill="none" stroke="#66000e" stroke-width="2.7"/><rect x="296.0" y="821.3" width="10.4" height="10.4" fill="none" stroke="#66000e" stroke-width="2.7"/><ellipse cx="316.7" cy="826.5" rx="5.3" ry="5.1" fill="none" stroke="#12147a" stroke-width="2.4"/><rect x="327.3" y="821.3" width="10.4" height="10.4" fill="none" stroke="#66000e" stroke-width="2.7"/><rect x="295.3" y="927.1" width="10.4" height="10.4" fill="none" stroke="#66000e" stroke-width="2.7"/><ellipse cx="315.8" cy="932.3" rx="5.3" ry="5.1" fill="none" stroke="#12147a" stroke-width="2.4"/><rect x="326.8" y="927.1" width="10.4" height="10.4" fill="none" stroke="#66000e" stroke-width="2.7"/><ellipse cx="411.8" cy="696" rx="5.3" ry="5.1" fill="none" stroke="#12147a" stroke-width="2.4"/><ellipse cx="405.2" cy="711.5" rx="5.3" ry="5.1" fill="none" stroke="#12147a" stroke-width="2.4"/><ellipse cx="419.1" cy="711.5" rx="5.3" ry="5.1" fill="none" stroke="#12147a" stroke-width="2.4"/><ellipse cx="399.2" cy="724.2" rx="5.3" ry="5.1" fill="none" stroke="#12147a" stroke-width="2.4"/><ellipse cx="425.8" cy="724.2" rx="5.3" ry="5.1" fill="none" stroke="#12147a" stroke-width="2.4"/><rect x="408.0" y="719.0" width="10.4" height="10.4" fill="none" stroke="#66000e" stroke-width="2.7"/><rect x="406.6" y="766.2" width="10.4" height="10.4" fill="none" stroke="#66000e" stroke-width="2.7"/><rect x="406.6" y="788.5" width="10.4" height="10.4" fill="none" stroke="#66000e" stroke-width="2.7"/><rect x="399.6" y="821.1" width="10.4" height="10.4" fill="none" stroke="#66000e" stroke-width="2.7"/><rect x="414.6" y="821.1" width="10.4" height="10.4" fill="none" stroke="#66000e" stroke-width="2.7"/></g></svg></body></html>
